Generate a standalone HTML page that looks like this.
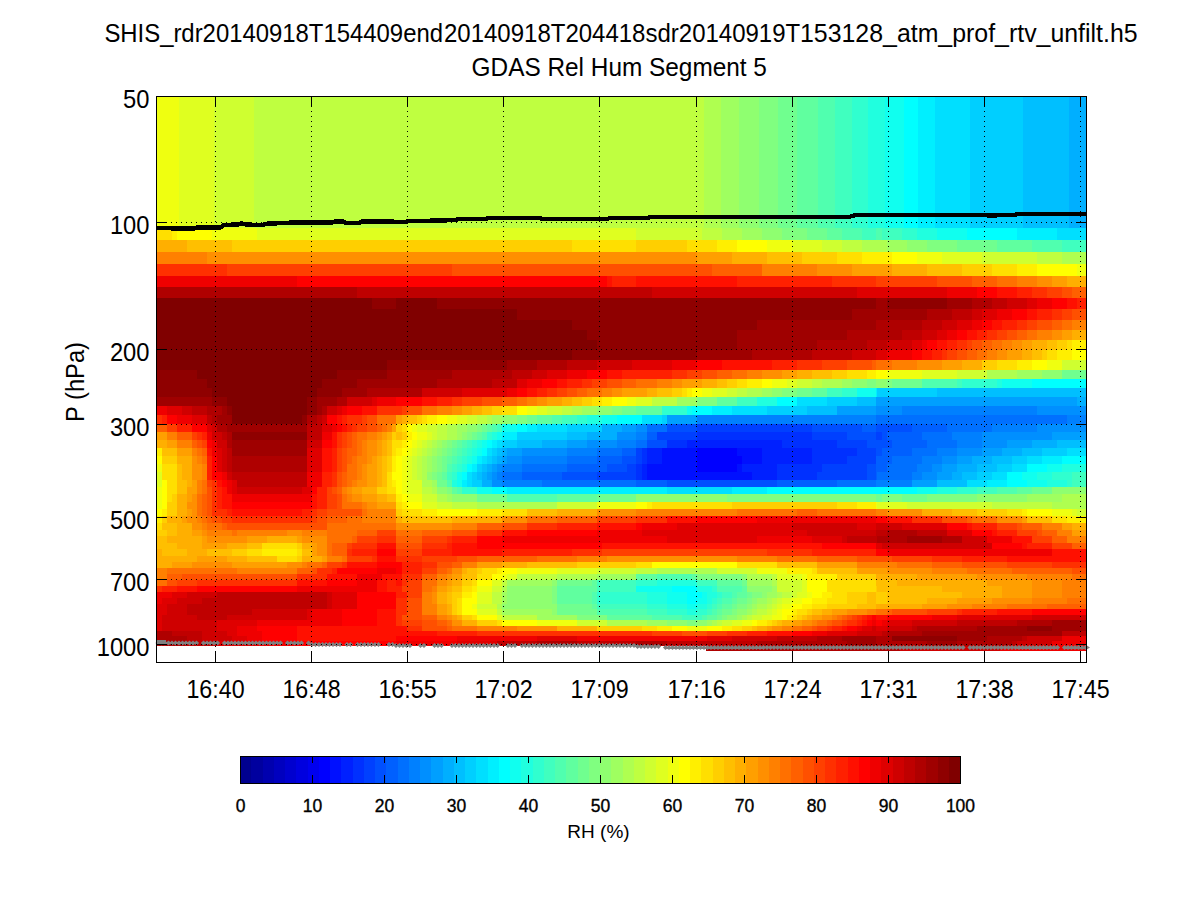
<!DOCTYPE html>
<html><head><meta charset="utf-8"><style>html,body{margin:0;padding:0;background:#fff;width:1200px;height:900px;overflow:hidden}svg{display:block}text{fill:#000}</style></head>
<body><svg width="1200" height="900" viewBox="0 0 1200 900" shape-rendering="crispEdges"><rect x="0" y="0" width="1200" height="900" fill="#fff"/><g><rect x="157" y="97" width="22" height="131" fill="#efff10"/><rect x="179" y="97" width="35" height="131" fill="#dfff20"/><rect x="214" y="97" width="40" height="131" fill="#cfff30"/><rect x="254" y="97" width="450" height="131" fill="#bfff40"/><rect x="704" y="97" width="17" height="131" fill="#afff50"/><rect x="721" y="97" width="18" height="131" fill="#9fff60"/><rect x="739" y="97" width="20" height="131" fill="#8fff70"/><rect x="759" y="97" width="19" height="131" fill="#80ff80"/><rect x="778" y="97" width="19" height="131" fill="#70ff8f"/><rect x="797" y="97" width="21" height="131" fill="#60ff9f"/><rect x="818" y="97" width="17" height="131" fill="#50ffaf"/><rect x="835" y="97" width="17" height="131" fill="#40ffbf"/><rect x="852" y="97" width="16" height="131" fill="#30ffcf"/><rect x="868" y="97" width="17" height="131" fill="#20ffdf"/><rect x="885" y="97" width="19" height="131" fill="#10ffef"/><rect x="904" y="97" width="14" height="131" fill="#00ffff"/><rect x="918" y="97" width="17" height="131" fill="#00efff"/><rect x="935" y="97" width="35" height="131" fill="#00dfff"/><rect x="970" y="97" width="53" height="131" fill="#00cfff"/><rect x="1023" y="97" width="46" height="131" fill="#00bfff"/><rect x="1069" y="97" width="17" height="131" fill="#00afff"/><rect x="157" y="228" width="15" height="12" fill="#ffdf00"/><rect x="172" y="228" width="5" height="12" fill="#ffef00"/><rect x="177" y="228" width="35" height="12" fill="#ffff00"/><rect x="212" y="228" width="45" height="12" fill="#efff10"/><rect x="257" y="228" width="379" height="12" fill="#dfff20"/><rect x="636" y="228" width="66" height="12" fill="#cfff30"/><rect x="702" y="228" width="20" height="12" fill="#bfff40"/><rect x="722" y="228" width="20" height="12" fill="#afff50"/><rect x="742" y="228" width="20" height="12" fill="#9fff60"/><rect x="762" y="228" width="20" height="12" fill="#8fff70"/><rect x="782" y="228" width="25" height="12" fill="#80ff80"/><rect x="807" y="228" width="20" height="12" fill="#70ff8f"/><rect x="827" y="228" width="15" height="12" fill="#60ff9f"/><rect x="842" y="228" width="20" height="12" fill="#50ffaf"/><rect x="862" y="228" width="14" height="12" fill="#40ffbf"/><rect x="876" y="228" width="6" height="12" fill="#50ffaf"/><rect x="882" y="228" width="20" height="12" fill="#40ffbf"/><rect x="902" y="228" width="15" height="12" fill="#30ffcf"/><rect x="917" y="228" width="20" height="12" fill="#20ffdf"/><rect x="937" y="228" width="30" height="12" fill="#10ffef"/><rect x="967" y="228" width="50" height="12" fill="#00ffff"/><rect x="1017" y="228" width="40" height="12" fill="#00efff"/><rect x="1057" y="228" width="29" height="12" fill="#00dfff"/><rect x="157" y="240" width="30" height="12" fill="#ffaf00"/><rect x="187" y="240" width="45" height="12" fill="#ffbf00"/><rect x="232" y="240" width="340" height="12" fill="#ffcf00"/><rect x="572" y="240" width="64" height="12" fill="#ffdf00"/><rect x="636" y="240" width="51" height="12" fill="#ffcf00"/><rect x="687" y="240" width="30" height="12" fill="#ffdf00"/><rect x="717" y="240" width="20" height="12" fill="#ffef00"/><rect x="737" y="240" width="30" height="12" fill="#ffff00"/><rect x="767" y="240" width="25" height="12" fill="#efff10"/><rect x="792" y="240" width="30" height="12" fill="#dfff20"/><rect x="822" y="240" width="20" height="12" fill="#cfff30"/><rect x="842" y="240" width="20" height="12" fill="#bfff40"/><rect x="862" y="240" width="25" height="12" fill="#afff50"/><rect x="887" y="240" width="20" height="12" fill="#9fff60"/><rect x="907" y="240" width="20" height="12" fill="#8fff70"/><rect x="927" y="240" width="30" height="12" fill="#80ff80"/><rect x="957" y="240" width="40" height="12" fill="#70ff8f"/><rect x="997" y="240" width="35" height="12" fill="#60ff9f"/><rect x="1032" y="240" width="30" height="12" fill="#50ffaf"/><rect x="1062" y="240" width="24" height="12" fill="#40ffbf"/><rect x="157" y="252" width="50" height="12" fill="#ff8000"/><rect x="207" y="252" width="490" height="12" fill="#ff8f00"/><rect x="697" y="252" width="35" height="12" fill="#ff9f00"/><rect x="732" y="252" width="35" height="12" fill="#ffaf00"/><rect x="767" y="252" width="35" height="12" fill="#ffbf00"/><rect x="802" y="252" width="35" height="12" fill="#ffcf00"/><rect x="837" y="252" width="25" height="12" fill="#ffdf00"/><rect x="862" y="252" width="30" height="12" fill="#ffef00"/><rect x="892" y="252" width="25" height="12" fill="#ffff00"/><rect x="917" y="252" width="25" height="12" fill="#efff10"/><rect x="942" y="252" width="40" height="12" fill="#dfff20"/><rect x="982" y="252" width="55" height="12" fill="#cfff30"/><rect x="1037" y="252" width="25" height="12" fill="#bfff40"/><rect x="1062" y="252" width="24" height="12" fill="#afff50"/><rect x="157" y="264" width="70" height="12" fill="#ff3000"/><rect x="227" y="264" width="225" height="12" fill="#ff4000"/><rect x="452" y="264" width="260" height="12" fill="#ff5000"/><rect x="712" y="264" width="50" height="12" fill="#ff6000"/><rect x="762" y="264" width="55" height="12" fill="#ff8000"/><rect x="817" y="264" width="35" height="12" fill="#ff8f00"/><rect x="852" y="264" width="40" height="12" fill="#ff9f00"/><rect x="892" y="264" width="35" height="12" fill="#ffaf00"/><rect x="927" y="264" width="35" height="12" fill="#ffbf00"/><rect x="962" y="264" width="30" height="12" fill="#ffcf00"/><rect x="992" y="264" width="25" height="12" fill="#ffdf00"/><rect x="1017" y="264" width="20" height="12" fill="#ffef00"/><rect x="1037" y="264" width="40" height="12" fill="#ffff00"/><rect x="1077" y="264" width="9" height="12" fill="#efff10"/><rect x="157" y="276" width="140" height="11" fill="#ef0000"/><rect x="297" y="276" width="310" height="11" fill="#ff0000"/><rect x="607" y="276" width="5" height="11" fill="#ff1000"/><rect x="612" y="276" width="24" height="11" fill="#ff2000"/><rect x="636" y="276" width="101" height="11" fill="#ff1000"/><rect x="737" y="276" width="95" height="11" fill="#ff2000"/><rect x="832" y="276" width="44" height="11" fill="#ff3000"/><rect x="876" y="276" width="61" height="11" fill="#ff4000"/><rect x="937" y="276" width="35" height="11" fill="#ff5000"/><rect x="972" y="276" width="25" height="11" fill="#ff6000"/><rect x="997" y="276" width="20" height="11" fill="#ff7000"/><rect x="1017" y="276" width="20" height="11" fill="#ff8000"/><rect x="1037" y="276" width="15" height="11" fill="#ff8f00"/><rect x="1052" y="276" width="15" height="11" fill="#ff9f00"/><rect x="1067" y="276" width="19" height="11" fill="#ffaf00"/><rect x="157" y="287" width="200" height="11" fill="#af0000"/><rect x="357" y="287" width="295" height="11" fill="#bf0000"/><rect x="652" y="287" width="205" height="11" fill="#cf0000"/><rect x="857" y="287" width="90" height="11" fill="#df0000"/><rect x="947" y="287" width="30" height="11" fill="#ef0000"/><rect x="977" y="287" width="20" height="11" fill="#ff0000"/><rect x="997" y="287" width="20" height="11" fill="#ff1000"/><rect x="1017" y="287" width="15" height="11" fill="#ff2000"/><rect x="1032" y="287" width="15" height="11" fill="#ff3000"/><rect x="1047" y="287" width="15" height="11" fill="#ff4000"/><rect x="1062" y="287" width="10" height="11" fill="#ff5000"/><rect x="1072" y="287" width="14" height="11" fill="#ff6000"/><rect x="157" y="298" width="215" height="11" fill="#800000"/><rect x="372" y="298" width="24" height="11" fill="#8f0000"/><rect x="396" y="298" width="41" height="11" fill="#800000"/><rect x="437" y="298" width="439" height="11" fill="#8f0000"/><rect x="876" y="298" width="11" height="11" fill="#9f0000"/><rect x="887" y="298" width="60" height="11" fill="#8f0000"/><rect x="947" y="298" width="25" height="11" fill="#9f0000"/><rect x="972" y="298" width="20" height="11" fill="#af0000"/><rect x="992" y="298" width="15" height="11" fill="#bf0000"/><rect x="1007" y="298" width="20" height="11" fill="#cf0000"/><rect x="1027" y="298" width="10" height="11" fill="#df0000"/><rect x="1037" y="298" width="15" height="11" fill="#ef0000"/><rect x="1052" y="298" width="15" height="11" fill="#ff0000"/><rect x="1067" y="298" width="10" height="11" fill="#ff1000"/><rect x="1077" y="298" width="9" height="11" fill="#ff2000"/><rect x="157" y="309" width="360" height="11" fill="#800000"/><rect x="517" y="309" width="335" height="11" fill="#8f0000"/><rect x="852" y="309" width="75" height="11" fill="#9f0000"/><rect x="927" y="309" width="25" height="11" fill="#af0000"/><rect x="952" y="309" width="20" height="11" fill="#bf0000"/><rect x="972" y="309" width="10" height="11" fill="#cf0000"/><rect x="982" y="309" width="15" height="11" fill="#df0000"/><rect x="997" y="309" width="15" height="11" fill="#ef0000"/><rect x="1012" y="309" width="15" height="11" fill="#ff0000"/><rect x="1027" y="309" width="10" height="11" fill="#ff1000"/><rect x="1037" y="309" width="15" height="11" fill="#ff2000"/><rect x="1052" y="309" width="10" height="11" fill="#ff3000"/><rect x="1062" y="309" width="10" height="11" fill="#ff4000"/><rect x="1072" y="309" width="14" height="11" fill="#ff5000"/><rect x="157" y="320" width="415" height="10" fill="#800000"/><rect x="572" y="320" width="185" height="10" fill="#8f0000"/><rect x="757" y="320" width="119" height="10" fill="#9f0000"/><rect x="876" y="320" width="46" height="10" fill="#af0000"/><rect x="922" y="320" width="20" height="10" fill="#bf0000"/><rect x="942" y="320" width="15" height="10" fill="#cf0000"/><rect x="957" y="320" width="15" height="10" fill="#df0000"/><rect x="972" y="320" width="10" height="10" fill="#ef0000"/><rect x="982" y="320" width="10" height="10" fill="#ff0000"/><rect x="992" y="320" width="10" height="10" fill="#ff1000"/><rect x="1002" y="320" width="15" height="10" fill="#ff2000"/><rect x="1017" y="320" width="10" height="10" fill="#ff3000"/><rect x="1027" y="320" width="10" height="10" fill="#ff4000"/><rect x="1037" y="320" width="15" height="10" fill="#ff5000"/><rect x="1052" y="320" width="10" height="10" fill="#ff6000"/><rect x="1062" y="320" width="10" height="10" fill="#ff7000"/><rect x="1072" y="320" width="14" height="10" fill="#ff8000"/><rect x="157" y="330" width="430" height="10" fill="#800000"/><rect x="587" y="330" width="150" height="10" fill="#8f0000"/><rect x="737" y="330" width="110" height="10" fill="#9f0000"/><rect x="847" y="330" width="55" height="10" fill="#af0000"/><rect x="902" y="330" width="20" height="10" fill="#bf0000"/><rect x="922" y="330" width="15" height="10" fill="#cf0000"/><rect x="937" y="330" width="10" height="10" fill="#df0000"/><rect x="947" y="330" width="10" height="10" fill="#ef0000"/><rect x="957" y="330" width="10" height="10" fill="#ff0000"/><rect x="967" y="330" width="10" height="10" fill="#ff1000"/><rect x="977" y="330" width="10" height="10" fill="#ff2000"/><rect x="987" y="330" width="10" height="10" fill="#ff3000"/><rect x="997" y="330" width="10" height="10" fill="#ff4000"/><rect x="1007" y="330" width="10" height="10" fill="#ff5000"/><rect x="1017" y="330" width="10" height="10" fill="#ff6000"/><rect x="1027" y="330" width="10" height="10" fill="#ff7000"/><rect x="1037" y="330" width="15" height="10" fill="#ff8000"/><rect x="1052" y="330" width="10" height="10" fill="#ff8f00"/><rect x="1062" y="330" width="10" height="10" fill="#ff9f00"/><rect x="1072" y="330" width="14" height="10" fill="#ffaf00"/><rect x="157" y="340" width="440" height="10" fill="#800000"/><rect x="597" y="340" width="140" height="10" fill="#8f0000"/><rect x="737" y="340" width="80" height="10" fill="#9f0000"/><rect x="817" y="340" width="50" height="10" fill="#af0000"/><rect x="867" y="340" width="20" height="10" fill="#bf0000"/><rect x="887" y="340" width="25" height="10" fill="#cf0000"/><rect x="912" y="340" width="10" height="10" fill="#df0000"/><rect x="922" y="340" width="5" height="10" fill="#ef0000"/><rect x="927" y="340" width="10" height="10" fill="#ff0000"/><rect x="937" y="340" width="10" height="10" fill="#ff1000"/><rect x="947" y="340" width="10" height="10" fill="#ff2000"/><rect x="957" y="340" width="10" height="10" fill="#ff3000"/><rect x="967" y="340" width="5" height="10" fill="#ff4000"/><rect x="972" y="340" width="10" height="10" fill="#ff5000"/><rect x="982" y="340" width="10" height="10" fill="#ff6000"/><rect x="992" y="340" width="10" height="10" fill="#ff7000"/><rect x="1002" y="340" width="10" height="10" fill="#ff8000"/><rect x="1012" y="340" width="10" height="10" fill="#ff8f00"/><rect x="1022" y="340" width="10" height="10" fill="#ff9f00"/><rect x="1032" y="340" width="15" height="10" fill="#ffaf00"/><rect x="1047" y="340" width="10" height="10" fill="#ffbf00"/><rect x="1057" y="340" width="10" height="10" fill="#ffcf00"/><rect x="1067" y="340" width="5" height="10" fill="#ffdf00"/><rect x="1072" y="340" width="14" height="10" fill="#ffef00"/><rect x="157" y="350" width="415" height="10" fill="#800000"/><rect x="572" y="350" width="125" height="10" fill="#8f0000"/><rect x="697" y="350" width="55" height="10" fill="#9f0000"/><rect x="752" y="350" width="60" height="10" fill="#af0000"/><rect x="812" y="350" width="40" height="10" fill="#bf0000"/><rect x="852" y="350" width="24" height="10" fill="#cf0000"/><rect x="876" y="350" width="11" height="10" fill="#df0000"/><rect x="887" y="350" width="25" height="10" fill="#ef0000"/><rect x="912" y="350" width="10" height="10" fill="#ff0000"/><rect x="922" y="350" width="10" height="10" fill="#ff1000"/><rect x="932" y="350" width="10" height="10" fill="#ff2000"/><rect x="942" y="350" width="5" height="10" fill="#ff3000"/><rect x="947" y="350" width="10" height="10" fill="#ff4000"/><rect x="957" y="350" width="10" height="10" fill="#ff5000"/><rect x="967" y="350" width="10" height="10" fill="#ff6000"/><rect x="977" y="350" width="10" height="10" fill="#ff7000"/><rect x="987" y="350" width="10" height="10" fill="#ff8000"/><rect x="997" y="350" width="10" height="10" fill="#ff8f00"/><rect x="1007" y="350" width="15" height="10" fill="#ff9f00"/><rect x="1022" y="350" width="10" height="10" fill="#ffaf00"/><rect x="1032" y="350" width="10" height="10" fill="#ffbf00"/><rect x="1042" y="350" width="5" height="10" fill="#ffcf00"/><rect x="1047" y="350" width="10" height="10" fill="#ffdf00"/><rect x="1057" y="350" width="15" height="10" fill="#ffef00"/><rect x="1072" y="350" width="14" height="10" fill="#ffff00"/><rect x="157" y="360" width="230" height="10" fill="#800000"/><rect x="387" y="360" width="120" height="10" fill="#8f0000"/><rect x="507" y="360" width="30" height="10" fill="#9f0000"/><rect x="537" y="360" width="30" height="10" fill="#af0000"/><rect x="567" y="360" width="30" height="10" fill="#bf0000"/><rect x="597" y="360" width="35" height="10" fill="#cf0000"/><rect x="632" y="360" width="40" height="10" fill="#df0000"/><rect x="672" y="360" width="25" height="10" fill="#ef0000"/><rect x="697" y="360" width="25" height="10" fill="#ff0000"/><rect x="722" y="360" width="50" height="10" fill="#ff1000"/><rect x="772" y="360" width="25" height="10" fill="#ff2000"/><rect x="797" y="360" width="25" height="10" fill="#ff3000"/><rect x="822" y="360" width="25" height="10" fill="#ff4000"/><rect x="847" y="360" width="25" height="10" fill="#ff5000"/><rect x="872" y="360" width="4" height="10" fill="#ff6000"/><rect x="876" y="360" width="16" height="10" fill="#ff7000"/><rect x="892" y="360" width="25" height="10" fill="#ff8000"/><rect x="917" y="360" width="25" height="10" fill="#ff8f00"/><rect x="942" y="360" width="20" height="10" fill="#ff9f00"/><rect x="962" y="360" width="20" height="10" fill="#ffaf00"/><rect x="982" y="360" width="15" height="10" fill="#ffcf00"/><rect x="997" y="360" width="20" height="10" fill="#ffdf00"/><rect x="1017" y="360" width="15" height="10" fill="#ffef00"/><rect x="1032" y="360" width="15" height="10" fill="#ffff00"/><rect x="1047" y="360" width="15" height="10" fill="#efff10"/><rect x="1062" y="360" width="24" height="10" fill="#cfff30"/><rect x="157" y="370" width="40" height="9" fill="#8f0000"/><rect x="197" y="370" width="140" height="9" fill="#800000"/><rect x="337" y="370" width="50" height="9" fill="#8f0000"/><rect x="387" y="370" width="65" height="9" fill="#9f0000"/><rect x="452" y="370" width="60" height="9" fill="#af0000"/><rect x="512" y="370" width="20" height="9" fill="#bf0000"/><rect x="532" y="370" width="15" height="9" fill="#cf0000"/><rect x="547" y="370" width="20" height="9" fill="#df0000"/><rect x="567" y="370" width="20" height="9" fill="#ef0000"/><rect x="587" y="370" width="20" height="9" fill="#ff0000"/><rect x="607" y="370" width="15" height="9" fill="#ff1000"/><rect x="622" y="370" width="50" height="9" fill="#ff2000"/><rect x="672" y="370" width="15" height="9" fill="#ff3000"/><rect x="687" y="370" width="15" height="9" fill="#ff4000"/><rect x="702" y="370" width="15" height="9" fill="#ff5000"/><rect x="717" y="370" width="15" height="9" fill="#ff6000"/><rect x="732" y="370" width="15" height="9" fill="#ff7000"/><rect x="747" y="370" width="15" height="9" fill="#ff8000"/><rect x="762" y="370" width="20" height="9" fill="#ff8f00"/><rect x="782" y="370" width="15" height="9" fill="#ff9f00"/><rect x="797" y="370" width="15" height="9" fill="#ffaf00"/><rect x="812" y="370" width="20" height="9" fill="#ffbf00"/><rect x="832" y="370" width="15" height="9" fill="#ffcf00"/><rect x="847" y="370" width="20" height="9" fill="#ffdf00"/><rect x="867" y="370" width="9" height="9" fill="#ffef00"/><rect x="876" y="370" width="11" height="9" fill="#ffff00"/><rect x="887" y="370" width="35" height="9" fill="#efff10"/><rect x="922" y="370" width="35" height="9" fill="#dfff20"/><rect x="957" y="370" width="30" height="9" fill="#cfff30"/><rect x="987" y="370" width="30" height="9" fill="#afff50"/><rect x="1017" y="370" width="25" height="9" fill="#9fff60"/><rect x="1042" y="370" width="20" height="9" fill="#8fff70"/><rect x="1062" y="370" width="24" height="9" fill="#70ff8f"/><rect x="157" y="379" width="50" height="9" fill="#8f0000"/><rect x="207" y="379" width="115" height="9" fill="#800000"/><rect x="322" y="379" width="35" height="9" fill="#8f0000"/><rect x="357" y="379" width="80" height="9" fill="#9f0000"/><rect x="437" y="379" width="55" height="9" fill="#af0000"/><rect x="492" y="379" width="25" height="9" fill="#bf0000"/><rect x="517" y="379" width="10" height="9" fill="#df0000"/><rect x="527" y="379" width="15" height="9" fill="#ef0000"/><rect x="542" y="379" width="15" height="9" fill="#ff0000"/><rect x="557" y="379" width="10" height="9" fill="#ff1000"/><rect x="567" y="379" width="15" height="9" fill="#ff2000"/><rect x="582" y="379" width="10" height="9" fill="#ff3000"/><rect x="592" y="379" width="15" height="9" fill="#ff4000"/><rect x="607" y="379" width="15" height="9" fill="#ff5000"/><rect x="622" y="379" width="14" height="9" fill="#ff6000"/><rect x="636" y="379" width="21" height="9" fill="#ff7000"/><rect x="657" y="379" width="15" height="9" fill="#ff8000"/><rect x="672" y="379" width="10" height="9" fill="#ff8f00"/><rect x="682" y="379" width="20" height="9" fill="#ff9f00"/><rect x="702" y="379" width="15" height="9" fill="#ffaf00"/><rect x="717" y="379" width="10" height="9" fill="#ffbf00"/><rect x="727" y="379" width="10" height="9" fill="#ffcf00"/><rect x="737" y="379" width="10" height="9" fill="#ffdf00"/><rect x="747" y="379" width="15" height="9" fill="#ffef00"/><rect x="762" y="379" width="10" height="9" fill="#ffff00"/><rect x="772" y="379" width="15" height="9" fill="#efff10"/><rect x="787" y="379" width="10" height="9" fill="#dfff20"/><rect x="797" y="379" width="15" height="9" fill="#cfff30"/><rect x="812" y="379" width="10" height="9" fill="#bfff40"/><rect x="822" y="379" width="20" height="9" fill="#afff50"/><rect x="842" y="379" width="10" height="9" fill="#9fff60"/><rect x="852" y="379" width="15" height="9" fill="#8fff70"/><rect x="867" y="379" width="9" height="9" fill="#80ff80"/><rect x="876" y="379" width="11" height="9" fill="#8fff70"/><rect x="887" y="379" width="5" height="9" fill="#80ff80"/><rect x="892" y="379" width="30" height="9" fill="#70ff8f"/><rect x="922" y="379" width="35" height="9" fill="#50ffaf"/><rect x="957" y="379" width="5" height="9" fill="#40ffbf"/><rect x="962" y="379" width="35" height="9" fill="#30ffcf"/><rect x="997" y="379" width="5" height="9" fill="#20ffdf"/><rect x="1002" y="379" width="30" height="9" fill="#10ffef"/><rect x="1032" y="379" width="54" height="9" fill="#00ffff"/><rect x="157" y="388" width="55" height="9" fill="#8f0000"/><rect x="212" y="388" width="105" height="9" fill="#800000"/><rect x="317" y="388" width="25" height="9" fill="#8f0000"/><rect x="342" y="388" width="25" height="9" fill="#9f0000"/><rect x="367" y="388" width="55" height="9" fill="#af0000"/><rect x="422" y="388" width="40" height="9" fill="#cf0000"/><rect x="462" y="388" width="45" height="9" fill="#df0000"/><rect x="507" y="388" width="10" height="9" fill="#ef0000"/><rect x="517" y="388" width="10" height="9" fill="#ff0000"/><rect x="527" y="388" width="10" height="9" fill="#ff1000"/><rect x="537" y="388" width="10" height="9" fill="#ff2000"/><rect x="547" y="388" width="10" height="9" fill="#ff3000"/><rect x="557" y="388" width="10" height="9" fill="#ff4000"/><rect x="567" y="388" width="10" height="9" fill="#ff5000"/><rect x="577" y="388" width="10" height="9" fill="#ff6000"/><rect x="587" y="388" width="15" height="9" fill="#ff7000"/><rect x="602" y="388" width="10" height="9" fill="#ff8000"/><rect x="612" y="388" width="10" height="9" fill="#ff8f00"/><rect x="622" y="388" width="25" height="9" fill="#ff9f00"/><rect x="647" y="388" width="10" height="9" fill="#ffaf00"/><rect x="657" y="388" width="15" height="9" fill="#ffbf00"/><rect x="672" y="388" width="10" height="9" fill="#ffcf00"/><rect x="682" y="388" width="5" height="9" fill="#ffdf00"/><rect x="687" y="388" width="5" height="9" fill="#ffef00"/><rect x="692" y="388" width="10" height="9" fill="#ffff00"/><rect x="702" y="388" width="10" height="9" fill="#efff10"/><rect x="712" y="388" width="15" height="9" fill="#dfff20"/><rect x="727" y="388" width="10" height="9" fill="#cfff30"/><rect x="737" y="388" width="10" height="9" fill="#bfff40"/><rect x="747" y="388" width="15" height="9" fill="#afff50"/><rect x="762" y="388" width="10" height="9" fill="#9fff60"/><rect x="772" y="388" width="10" height="9" fill="#8fff70"/><rect x="782" y="388" width="15" height="9" fill="#80ff80"/><rect x="797" y="388" width="15" height="9" fill="#70ff8f"/><rect x="812" y="388" width="15" height="9" fill="#60ff9f"/><rect x="827" y="388" width="15" height="9" fill="#40ffbf"/><rect x="842" y="388" width="15" height="9" fill="#30ffcf"/><rect x="857" y="388" width="19" height="9" fill="#10ffef"/><rect x="876" y="388" width="1" height="9" fill="#00efff"/><rect x="877" y="388" width="60" height="9" fill="#00cfff"/><rect x="937" y="388" width="149" height="9" fill="#00bfff"/><rect x="157" y="397" width="55" height="9" fill="#9f0000"/><rect x="212" y="397" width="15" height="9" fill="#8f0000"/><rect x="227" y="397" width="80" height="9" fill="#800000"/><rect x="307" y="397" width="10" height="9" fill="#8f0000"/><rect x="317" y="397" width="20" height="9" fill="#9f0000"/><rect x="337" y="397" width="10" height="9" fill="#af0000"/><rect x="347" y="397" width="25" height="9" fill="#cf0000"/><rect x="372" y="397" width="5" height="9" fill="#df0000"/><rect x="377" y="397" width="19" height="9" fill="#ef0000"/><rect x="396" y="397" width="26" height="9" fill="#ff0000"/><rect x="422" y="397" width="15" height="9" fill="#ff1000"/><rect x="437" y="397" width="15" height="9" fill="#ff2000"/><rect x="452" y="397" width="10" height="9" fill="#ff3000"/><rect x="462" y="397" width="20" height="9" fill="#ff4000"/><rect x="482" y="397" width="20" height="9" fill="#ff5000"/><rect x="502" y="397" width="15" height="9" fill="#ff6000"/><rect x="517" y="397" width="10" height="9" fill="#ff7000"/><rect x="527" y="397" width="10" height="9" fill="#ff8000"/><rect x="537" y="397" width="10" height="9" fill="#ff8f00"/><rect x="547" y="397" width="15" height="9" fill="#ff9f00"/><rect x="562" y="397" width="10" height="9" fill="#ffaf00"/><rect x="572" y="397" width="10" height="9" fill="#ffbf00"/><rect x="582" y="397" width="10" height="9" fill="#ffcf00"/><rect x="592" y="397" width="10" height="9" fill="#ffdf00"/><rect x="602" y="397" width="10" height="9" fill="#ffef00"/><rect x="612" y="397" width="15" height="9" fill="#ffff00"/><rect x="627" y="397" width="9" height="9" fill="#efff10"/><rect x="636" y="397" width="16" height="9" fill="#dfff20"/><rect x="652" y="397" width="25" height="9" fill="#bfff40"/><rect x="677" y="397" width="20" height="9" fill="#9fff60"/><rect x="697" y="397" width="20" height="9" fill="#80ff80"/><rect x="717" y="397" width="20" height="9" fill="#60ff9f"/><rect x="737" y="397" width="20" height="9" fill="#40ffbf"/><rect x="757" y="397" width="20" height="9" fill="#20ffdf"/><rect x="777" y="397" width="20" height="9" fill="#00ffff"/><rect x="797" y="397" width="30" height="9" fill="#00dfff"/><rect x="827" y="397" width="30" height="9" fill="#00cfff"/><rect x="857" y="397" width="19" height="9" fill="#00bfff"/><rect x="876" y="397" width="201" height="9" fill="#009fff"/><rect x="1077" y="397" width="9" height="9" fill="#00afff"/><rect x="157" y="406" width="10" height="9" fill="#ef0000"/><rect x="167" y="406" width="15" height="9" fill="#df0000"/><rect x="182" y="406" width="10" height="9" fill="#cf0000"/><rect x="192" y="406" width="15" height="9" fill="#bf0000"/><rect x="207" y="406" width="15" height="9" fill="#af0000"/><rect x="222" y="406" width="5" height="9" fill="#9f0000"/><rect x="227" y="406" width="5" height="9" fill="#8f0000"/><rect x="232" y="406" width="75" height="9" fill="#800000"/><rect x="307" y="406" width="10" height="9" fill="#8f0000"/><rect x="317" y="406" width="5" height="9" fill="#9f0000"/><rect x="322" y="406" width="5" height="9" fill="#af0000"/><rect x="327" y="406" width="10" height="9" fill="#cf0000"/><rect x="337" y="406" width="5" height="9" fill="#df0000"/><rect x="342" y="406" width="5" height="9" fill="#ef0000"/><rect x="347" y="406" width="15" height="9" fill="#ff0000"/><rect x="362" y="406" width="15" height="9" fill="#ff1000"/><rect x="377" y="406" width="25" height="9" fill="#ff3000"/><rect x="402" y="406" width="5" height="9" fill="#ff4000"/><rect x="407" y="406" width="15" height="9" fill="#ff5000"/><rect x="422" y="406" width="15" height="9" fill="#ff7000"/><rect x="437" y="406" width="15" height="9" fill="#ff8000"/><rect x="452" y="406" width="10" height="9" fill="#ff8f00"/><rect x="462" y="406" width="10" height="9" fill="#ff9f00"/><rect x="472" y="406" width="10" height="9" fill="#ffaf00"/><rect x="482" y="406" width="10" height="9" fill="#ffbf00"/><rect x="492" y="406" width="10" height="9" fill="#ffcf00"/><rect x="502" y="406" width="15" height="9" fill="#ffdf00"/><rect x="517" y="406" width="10" height="9" fill="#ffff00"/><rect x="527" y="406" width="10" height="9" fill="#efff10"/><rect x="537" y="406" width="10" height="9" fill="#dfff20"/><rect x="547" y="406" width="15" height="9" fill="#cfff30"/><rect x="562" y="406" width="10" height="9" fill="#bfff40"/><rect x="572" y="406" width="10" height="9" fill="#afff50"/><rect x="582" y="406" width="15" height="9" fill="#9fff60"/><rect x="597" y="406" width="15" height="9" fill="#8fff70"/><rect x="612" y="406" width="10" height="9" fill="#80ff80"/><rect x="622" y="406" width="14" height="9" fill="#70ff8f"/><rect x="636" y="406" width="26" height="9" fill="#60ff9f"/><rect x="662" y="406" width="25" height="9" fill="#30ffcf"/><rect x="687" y="406" width="5" height="9" fill="#10ffef"/><rect x="692" y="406" width="20" height="9" fill="#00ffff"/><rect x="712" y="406" width="20" height="9" fill="#00efff"/><rect x="732" y="406" width="35" height="9" fill="#00dfff"/><rect x="767" y="406" width="40" height="9" fill="#00cfff"/><rect x="807" y="406" width="30" height="9" fill="#00bfff"/><rect x="837" y="406" width="39" height="9" fill="#009fff"/><rect x="876" y="406" width="26" height="9" fill="#008fff"/><rect x="902" y="406" width="135" height="9" fill="#0080ff"/><rect x="1037" y="406" width="49" height="9" fill="#008fff"/><rect x="157" y="415" width="5" height="9" fill="#ff3000"/><rect x="162" y="415" width="5" height="9" fill="#ff2000"/><rect x="167" y="415" width="10" height="9" fill="#ff0000"/><rect x="177" y="415" width="15" height="9" fill="#ef0000"/><rect x="192" y="415" width="15" height="9" fill="#df0000"/><rect x="207" y="415" width="5" height="9" fill="#bf0000"/><rect x="212" y="415" width="5" height="9" fill="#af0000"/><rect x="217" y="415" width="15" height="9" fill="#9f0000"/><rect x="232" y="415" width="70" height="9" fill="#800000"/><rect x="302" y="415" width="5" height="9" fill="#8f0000"/><rect x="307" y="415" width="10" height="9" fill="#af0000"/><rect x="317" y="415" width="5" height="9" fill="#bf0000"/><rect x="322" y="415" width="5" height="9" fill="#cf0000"/><rect x="327" y="415" width="10" height="9" fill="#ff0000"/><rect x="337" y="415" width="5" height="9" fill="#ff1000"/><rect x="342" y="415" width="5" height="9" fill="#ff2000"/><rect x="347" y="415" width="15" height="9" fill="#ff3000"/><rect x="362" y="415" width="5" height="9" fill="#ff4000"/><rect x="367" y="415" width="10" height="9" fill="#ff5000"/><rect x="377" y="415" width="19" height="9" fill="#ff7000"/><rect x="396" y="415" width="6" height="9" fill="#ff9f00"/><rect x="402" y="415" width="5" height="9" fill="#ffaf00"/><rect x="407" y="415" width="10" height="9" fill="#ffbf00"/><rect x="417" y="415" width="5" height="9" fill="#ffcf00"/><rect x="422" y="415" width="5" height="9" fill="#ffdf00"/><rect x="427" y="415" width="10" height="9" fill="#ffef00"/><rect x="437" y="415" width="10" height="9" fill="#ffff00"/><rect x="447" y="415" width="10" height="9" fill="#efff10"/><rect x="457" y="415" width="10" height="9" fill="#dfff20"/><rect x="467" y="415" width="10" height="9" fill="#cfff30"/><rect x="477" y="415" width="10" height="9" fill="#bfff40"/><rect x="487" y="415" width="5" height="9" fill="#afff50"/><rect x="492" y="415" width="10" height="9" fill="#9fff60"/><rect x="502" y="415" width="15" height="9" fill="#8fff70"/><rect x="517" y="415" width="10" height="9" fill="#80ff80"/><rect x="527" y="415" width="10" height="9" fill="#70ff8f"/><rect x="537" y="415" width="15" height="9" fill="#60ff9f"/><rect x="552" y="415" width="10" height="9" fill="#50ffaf"/><rect x="562" y="415" width="15" height="9" fill="#40ffbf"/><rect x="577" y="415" width="10" height="9" fill="#30ffcf"/><rect x="587" y="415" width="15" height="9" fill="#20ffdf"/><rect x="602" y="415" width="15" height="9" fill="#10ffef"/><rect x="617" y="415" width="25" height="9" fill="#00ffff"/><rect x="642" y="415" width="20" height="9" fill="#00dfff"/><rect x="662" y="415" width="5" height="9" fill="#00cfff"/><rect x="667" y="415" width="30" height="9" fill="#009fff"/><rect x="697" y="415" width="179" height="9" fill="#0080ff"/><rect x="876" y="415" width="191" height="9" fill="#0070ff"/><rect x="1067" y="415" width="19" height="9" fill="#0080ff"/><rect x="157" y="424" width="10" height="8" fill="#ff6000"/><rect x="167" y="424" width="10" height="8" fill="#ff4000"/><rect x="177" y="424" width="15" height="8" fill="#ff2000"/><rect x="192" y="424" width="15" height="8" fill="#ff0000"/><rect x="207" y="424" width="5" height="8" fill="#df0000"/><rect x="212" y="424" width="5" height="8" fill="#cf0000"/><rect x="217" y="424" width="10" height="8" fill="#af0000"/><rect x="227" y="424" width="80" height="8" fill="#9f0000"/><rect x="307" y="424" width="15" height="8" fill="#bf0000"/><rect x="322" y="424" width="10" height="8" fill="#df0000"/><rect x="332" y="424" width="5" height="8" fill="#ef0000"/><rect x="337" y="424" width="5" height="8" fill="#ff0000"/><rect x="342" y="424" width="5" height="8" fill="#ff1000"/><rect x="347" y="424" width="5" height="8" fill="#ff2000"/><rect x="352" y="424" width="5" height="8" fill="#ff3000"/><rect x="357" y="424" width="10" height="8" fill="#ff4000"/><rect x="367" y="424" width="10" height="8" fill="#ff5000"/><rect x="377" y="424" width="5" height="8" fill="#ff6000"/><rect x="382" y="424" width="5" height="8" fill="#ff7000"/><rect x="387" y="424" width="5" height="8" fill="#ff8000"/><rect x="392" y="424" width="4" height="8" fill="#ff9f00"/><rect x="396" y="424" width="6" height="8" fill="#ffcf00"/><rect x="402" y="424" width="5" height="8" fill="#ffdf00"/><rect x="407" y="424" width="5" height="8" fill="#ffff00"/><rect x="412" y="424" width="5" height="8" fill="#efff10"/><rect x="417" y="424" width="10" height="8" fill="#dfff20"/><rect x="427" y="424" width="10" height="8" fill="#cfff30"/><rect x="437" y="424" width="10" height="8" fill="#bfff40"/><rect x="447" y="424" width="10" height="8" fill="#afff50"/><rect x="457" y="424" width="10" height="8" fill="#9fff60"/><rect x="467" y="424" width="10" height="8" fill="#8fff70"/><rect x="477" y="424" width="5" height="8" fill="#80ff80"/><rect x="482" y="424" width="5" height="8" fill="#70ff8f"/><rect x="487" y="424" width="5" height="8" fill="#60ff9f"/><rect x="492" y="424" width="5" height="8" fill="#50ffaf"/><rect x="497" y="424" width="5" height="8" fill="#40ffbf"/><rect x="502" y="424" width="15" height="8" fill="#10ffef"/><rect x="517" y="424" width="10" height="8" fill="#00ffff"/><rect x="527" y="424" width="10" height="8" fill="#00efff"/><rect x="537" y="424" width="30" height="8" fill="#00dfff"/><rect x="567" y="424" width="35" height="8" fill="#00cfff"/><rect x="602" y="424" width="20" height="8" fill="#00afff"/><rect x="622" y="424" width="14" height="8" fill="#009fff"/><rect x="636" y="424" width="11" height="8" fill="#008fff"/><rect x="647" y="424" width="20" height="8" fill="#0070ff"/><rect x="667" y="424" width="30" height="8" fill="#0050ff"/><rect x="697" y="424" width="115" height="8" fill="#0040ff"/><rect x="812" y="424" width="50" height="8" fill="#0050ff"/><rect x="862" y="424" width="14" height="8" fill="#0060ff"/><rect x="876" y="424" width="36" height="8" fill="#0050ff"/><rect x="912" y="424" width="35" height="8" fill="#0060ff"/><rect x="947" y="424" width="45" height="8" fill="#0070ff"/><rect x="992" y="424" width="45" height="8" fill="#0080ff"/><rect x="1037" y="424" width="49" height="8" fill="#008fff"/><rect x="157" y="432" width="10" height="8" fill="#ff9f00"/><rect x="167" y="432" width="10" height="8" fill="#ff8000"/><rect x="177" y="432" width="15" height="8" fill="#ff6000"/><rect x="192" y="432" width="5" height="8" fill="#ff4000"/><rect x="197" y="432" width="5" height="8" fill="#ff3000"/><rect x="202" y="432" width="5" height="8" fill="#ff2000"/><rect x="207" y="432" width="5" height="8" fill="#ef0000"/><rect x="212" y="432" width="10" height="8" fill="#cf0000"/><rect x="222" y="432" width="5" height="8" fill="#bf0000"/><rect x="227" y="432" width="5" height="8" fill="#af0000"/><rect x="232" y="432" width="75" height="8" fill="#8f0000"/><rect x="307" y="432" width="15" height="8" fill="#bf0000"/><rect x="322" y="432" width="10" height="8" fill="#ef0000"/><rect x="332" y="432" width="5" height="8" fill="#ff1000"/><rect x="337" y="432" width="5" height="8" fill="#ff3000"/><rect x="342" y="432" width="5" height="8" fill="#ff4000"/><rect x="347" y="432" width="5" height="8" fill="#ff5000"/><rect x="352" y="432" width="5" height="8" fill="#ff6000"/><rect x="357" y="432" width="10" height="8" fill="#ff7000"/><rect x="367" y="432" width="10" height="8" fill="#ff8000"/><rect x="377" y="432" width="5" height="8" fill="#ff8f00"/><rect x="382" y="432" width="5" height="8" fill="#ff9f00"/><rect x="387" y="432" width="5" height="8" fill="#ffaf00"/><rect x="392" y="432" width="4" height="8" fill="#ffcf00"/><rect x="396" y="432" width="6" height="8" fill="#ffbf00"/><rect x="402" y="432" width="5" height="8" fill="#ffcf00"/><rect x="407" y="432" width="5" height="8" fill="#ffef00"/><rect x="412" y="432" width="5" height="8" fill="#ffff00"/><rect x="417" y="432" width="10" height="8" fill="#efff10"/><rect x="427" y="432" width="5" height="8" fill="#dfff20"/><rect x="432" y="432" width="5" height="8" fill="#cfff30"/><rect x="437" y="432" width="10" height="8" fill="#bfff40"/><rect x="447" y="432" width="10" height="8" fill="#afff50"/><rect x="457" y="432" width="5" height="8" fill="#9fff60"/><rect x="462" y="432" width="5" height="8" fill="#8fff70"/><rect x="467" y="432" width="5" height="8" fill="#80ff80"/><rect x="472" y="432" width="5" height="8" fill="#70ff8f"/><rect x="477" y="432" width="5" height="8" fill="#60ff9f"/><rect x="482" y="432" width="5" height="8" fill="#50ffaf"/><rect x="487" y="432" width="5" height="8" fill="#30ffcf"/><rect x="492" y="432" width="5" height="8" fill="#20ffdf"/><rect x="497" y="432" width="5" height="8" fill="#10ffef"/><rect x="502" y="432" width="15" height="8" fill="#00efff"/><rect x="517" y="432" width="50" height="8" fill="#00cfff"/><rect x="567" y="432" width="20" height="8" fill="#00bfff"/><rect x="587" y="432" width="30" height="8" fill="#00afff"/><rect x="617" y="432" width="19" height="8" fill="#008fff"/><rect x="636" y="432" width="11" height="8" fill="#0080ff"/><rect x="647" y="432" width="10" height="8" fill="#0060ff"/><rect x="657" y="432" width="40" height="8" fill="#0040ff"/><rect x="697" y="432" width="115" height="8" fill="#0030ff"/><rect x="812" y="432" width="35" height="8" fill="#0040ff"/><rect x="847" y="432" width="29" height="8" fill="#0050ff"/><rect x="876" y="432" width="6" height="8" fill="#0040ff"/><rect x="882" y="432" width="5" height="8" fill="#0050ff"/><rect x="887" y="432" width="35" height="8" fill="#0060ff"/><rect x="922" y="432" width="30" height="8" fill="#0070ff"/><rect x="952" y="432" width="30" height="8" fill="#0080ff"/><rect x="982" y="432" width="70" height="8" fill="#008fff"/><rect x="1052" y="432" width="34" height="8" fill="#009fff"/><rect x="157" y="440" width="10" height="8" fill="#ffaf00"/><rect x="167" y="440" width="10" height="8" fill="#ff9f00"/><rect x="177" y="440" width="15" height="8" fill="#ff8000"/><rect x="192" y="440" width="5" height="8" fill="#ff6000"/><rect x="197" y="440" width="5" height="8" fill="#ff5000"/><rect x="202" y="440" width="5" height="8" fill="#ff4000"/><rect x="207" y="440" width="5" height="8" fill="#ff0000"/><rect x="212" y="440" width="5" height="8" fill="#ef0000"/><rect x="217" y="440" width="10" height="8" fill="#cf0000"/><rect x="227" y="440" width="5" height="8" fill="#af0000"/><rect x="232" y="440" width="75" height="8" fill="#9f0000"/><rect x="307" y="440" width="15" height="8" fill="#cf0000"/><rect x="322" y="440" width="10" height="8" fill="#ff0000"/><rect x="332" y="440" width="5" height="8" fill="#ff1000"/><rect x="337" y="440" width="5" height="8" fill="#ff3000"/><rect x="342" y="440" width="5" height="8" fill="#ff4000"/><rect x="347" y="440" width="5" height="8" fill="#ff5000"/><rect x="352" y="440" width="5" height="8" fill="#ff6000"/><rect x="357" y="440" width="5" height="8" fill="#ff7000"/><rect x="362" y="440" width="5" height="8" fill="#ff8000"/><rect x="367" y="440" width="10" height="8" fill="#ff8f00"/><rect x="377" y="440" width="5" height="8" fill="#ff9f00"/><rect x="382" y="440" width="5" height="8" fill="#ffaf00"/><rect x="387" y="440" width="5" height="8" fill="#ffbf00"/><rect x="392" y="440" width="10" height="8" fill="#ffdf00"/><rect x="402" y="440" width="5" height="8" fill="#ffef00"/><rect x="407" y="440" width="5" height="8" fill="#ffff00"/><rect x="412" y="440" width="5" height="8" fill="#efff10"/><rect x="417" y="440" width="5" height="8" fill="#dfff20"/><rect x="422" y="440" width="5" height="8" fill="#cfff30"/><rect x="427" y="440" width="5" height="8" fill="#bfff40"/><rect x="432" y="440" width="5" height="8" fill="#afff50"/><rect x="437" y="440" width="5" height="8" fill="#9fff60"/><rect x="442" y="440" width="5" height="8" fill="#8fff70"/><rect x="447" y="440" width="5" height="8" fill="#80ff80"/><rect x="452" y="440" width="5" height="8" fill="#70ff8f"/><rect x="457" y="440" width="5" height="8" fill="#60ff9f"/><rect x="462" y="440" width="5" height="8" fill="#50ffaf"/><rect x="467" y="440" width="5" height="8" fill="#40ffbf"/><rect x="472" y="440" width="5" height="8" fill="#30ffcf"/><rect x="477" y="440" width="5" height="8" fill="#20ffdf"/><rect x="482" y="440" width="5" height="8" fill="#10ffef"/><rect x="487" y="440" width="5" height="8" fill="#00ffff"/><rect x="492" y="440" width="5" height="8" fill="#00efff"/><rect x="497" y="440" width="5" height="8" fill="#00dfff"/><rect x="502" y="440" width="15" height="8" fill="#00cfff"/><rect x="517" y="440" width="25" height="8" fill="#00bfff"/><rect x="542" y="440" width="25" height="8" fill="#00afff"/><rect x="567" y="440" width="20" height="8" fill="#009fff"/><rect x="587" y="440" width="30" height="8" fill="#008fff"/><rect x="617" y="440" width="19" height="8" fill="#0080ff"/><rect x="636" y="440" width="11" height="8" fill="#0070ff"/><rect x="647" y="440" width="20" height="8" fill="#0050ff"/><rect x="667" y="440" width="20" height="8" fill="#0030ff"/><rect x="687" y="440" width="95" height="8" fill="#0020ff"/><rect x="782" y="440" width="55" height="8" fill="#0030ff"/><rect x="837" y="440" width="30" height="8" fill="#0040ff"/><rect x="867" y="440" width="25" height="8" fill="#0050ff"/><rect x="892" y="440" width="35" height="8" fill="#0060ff"/><rect x="927" y="440" width="30" height="8" fill="#0070ff"/><rect x="957" y="440" width="25" height="8" fill="#0080ff"/><rect x="982" y="440" width="25" height="8" fill="#008fff"/><rect x="1007" y="440" width="25" height="8" fill="#009fff"/><rect x="1032" y="440" width="25" height="8" fill="#00afff"/><rect x="1057" y="440" width="29" height="8" fill="#00bfff"/><rect x="157" y="448" width="5" height="8" fill="#ffef00"/><rect x="162" y="448" width="15" height="8" fill="#ffbf00"/><rect x="177" y="448" width="15" height="8" fill="#ff9f00"/><rect x="192" y="448" width="5" height="8" fill="#ff8000"/><rect x="197" y="448" width="5" height="8" fill="#ff7000"/><rect x="202" y="448" width="5" height="8" fill="#ff6000"/><rect x="207" y="448" width="5" height="8" fill="#ff1000"/><rect x="212" y="448" width="5" height="8" fill="#ef0000"/><rect x="217" y="448" width="5" height="8" fill="#df0000"/><rect x="222" y="448" width="5" height="8" fill="#cf0000"/><rect x="227" y="448" width="5" height="8" fill="#bf0000"/><rect x="232" y="448" width="75" height="8" fill="#9f0000"/><rect x="307" y="448" width="15" height="8" fill="#df0000"/><rect x="322" y="448" width="10" height="8" fill="#ff1000"/><rect x="332" y="448" width="5" height="8" fill="#ff2000"/><rect x="337" y="448" width="5" height="8" fill="#ff4000"/><rect x="342" y="448" width="5" height="8" fill="#ff5000"/><rect x="347" y="448" width="10" height="8" fill="#ff6000"/><rect x="357" y="448" width="5" height="8" fill="#ff7000"/><rect x="362" y="448" width="5" height="8" fill="#ff8000"/><rect x="367" y="448" width="10" height="8" fill="#ff8f00"/><rect x="377" y="448" width="5" height="8" fill="#ff9f00"/><rect x="382" y="448" width="5" height="8" fill="#ffaf00"/><rect x="387" y="448" width="5" height="8" fill="#ffbf00"/><rect x="392" y="448" width="4" height="8" fill="#ffdf00"/><rect x="396" y="448" width="6" height="8" fill="#ffef00"/><rect x="402" y="448" width="5" height="8" fill="#ffff00"/><rect x="407" y="448" width="5" height="8" fill="#efff10"/><rect x="412" y="448" width="5" height="8" fill="#dfff20"/><rect x="417" y="448" width="5" height="8" fill="#cfff30"/><rect x="422" y="448" width="5" height="8" fill="#bfff40"/><rect x="427" y="448" width="5" height="8" fill="#afff50"/><rect x="432" y="448" width="5" height="8" fill="#9fff60"/><rect x="437" y="448" width="5" height="8" fill="#8fff70"/><rect x="442" y="448" width="5" height="8" fill="#80ff80"/><rect x="447" y="448" width="5" height="8" fill="#70ff8f"/><rect x="452" y="448" width="5" height="8" fill="#60ff9f"/><rect x="457" y="448" width="5" height="8" fill="#50ffaf"/><rect x="462" y="448" width="5" height="8" fill="#40ffbf"/><rect x="467" y="448" width="5" height="8" fill="#30ffcf"/><rect x="472" y="448" width="5" height="8" fill="#20ffdf"/><rect x="477" y="448" width="5" height="8" fill="#10ffef"/><rect x="482" y="448" width="5" height="8" fill="#00ffff"/><rect x="487" y="448" width="5" height="8" fill="#00dfff"/><rect x="492" y="448" width="5" height="8" fill="#00cfff"/><rect x="497" y="448" width="5" height="8" fill="#00bfff"/><rect x="502" y="448" width="5" height="8" fill="#00afff"/><rect x="507" y="448" width="15" height="8" fill="#009fff"/><rect x="522" y="448" width="45" height="8" fill="#008fff"/><rect x="567" y="448" width="30" height="8" fill="#0080ff"/><rect x="597" y="448" width="25" height="8" fill="#0070ff"/><rect x="622" y="448" width="14" height="8" fill="#0060ff"/><rect x="636" y="448" width="6" height="8" fill="#0040ff"/><rect x="642" y="448" width="5" height="8" fill="#0030ff"/><rect x="647" y="448" width="15" height="8" fill="#0020ff"/><rect x="662" y="448" width="35" height="8" fill="#0010ff"/><rect x="697" y="448" width="40" height="8" fill="#0000ff"/><rect x="737" y="448" width="25" height="8" fill="#0010ff"/><rect x="762" y="448" width="50" height="8" fill="#0020ff"/><rect x="812" y="448" width="45" height="8" fill="#0030ff"/><rect x="857" y="448" width="19" height="8" fill="#0040ff"/><rect x="876" y="448" width="6" height="8" fill="#0050ff"/><rect x="882" y="448" width="30" height="8" fill="#0060ff"/><rect x="912" y="448" width="25" height="8" fill="#0070ff"/><rect x="937" y="448" width="20" height="8" fill="#0080ff"/><rect x="957" y="448" width="25" height="8" fill="#008fff"/><rect x="982" y="448" width="20" height="8" fill="#009fff"/><rect x="1002" y="448" width="20" height="8" fill="#00afff"/><rect x="1022" y="448" width="20" height="8" fill="#00bfff"/><rect x="1042" y="448" width="25" height="8" fill="#00cfff"/><rect x="1067" y="448" width="19" height="8" fill="#00dfff"/><rect x="157" y="456" width="5" height="8" fill="#ffff00"/><rect x="162" y="456" width="15" height="8" fill="#ffcf00"/><rect x="177" y="456" width="15" height="8" fill="#ffaf00"/><rect x="192" y="456" width="5" height="8" fill="#ff8f00"/><rect x="197" y="456" width="5" height="8" fill="#ff8000"/><rect x="202" y="456" width="5" height="8" fill="#ff7000"/><rect x="207" y="456" width="5" height="8" fill="#ff2000"/><rect x="212" y="456" width="5" height="8" fill="#ff0000"/><rect x="217" y="456" width="5" height="8" fill="#df0000"/><rect x="222" y="456" width="5" height="8" fill="#cf0000"/><rect x="227" y="456" width="5" height="8" fill="#bf0000"/><rect x="232" y="456" width="75" height="8" fill="#af0000"/><rect x="307" y="456" width="15" height="8" fill="#df0000"/><rect x="322" y="456" width="10" height="8" fill="#ff1000"/><rect x="332" y="456" width="5" height="8" fill="#ff2000"/><rect x="337" y="456" width="5" height="8" fill="#ff4000"/><rect x="342" y="456" width="5" height="8" fill="#ff5000"/><rect x="347" y="456" width="5" height="8" fill="#ff6000"/><rect x="352" y="456" width="5" height="8" fill="#ff7000"/><rect x="357" y="456" width="10" height="8" fill="#ff8000"/><rect x="367" y="456" width="5" height="8" fill="#ff8f00"/><rect x="372" y="456" width="5" height="8" fill="#ff9f00"/><rect x="377" y="456" width="5" height="8" fill="#ffaf00"/><rect x="382" y="456" width="5" height="8" fill="#ffbf00"/><rect x="387" y="456" width="5" height="8" fill="#ffcf00"/><rect x="392" y="456" width="4" height="8" fill="#ffef00"/><rect x="396" y="456" width="6" height="8" fill="#ffff00"/><rect x="402" y="456" width="5" height="8" fill="#efff10"/><rect x="407" y="456" width="5" height="8" fill="#dfff20"/><rect x="412" y="456" width="5" height="8" fill="#cfff30"/><rect x="417" y="456" width="5" height="8" fill="#bfff40"/><rect x="422" y="456" width="5" height="8" fill="#afff50"/><rect x="427" y="456" width="5" height="8" fill="#9fff60"/><rect x="432" y="456" width="5" height="8" fill="#8fff70"/><rect x="437" y="456" width="5" height="8" fill="#80ff80"/><rect x="442" y="456" width="5" height="8" fill="#70ff8f"/><rect x="447" y="456" width="5" height="8" fill="#60ff9f"/><rect x="452" y="456" width="5" height="8" fill="#50ffaf"/><rect x="457" y="456" width="5" height="8" fill="#40ffbf"/><rect x="462" y="456" width="5" height="8" fill="#30ffcf"/><rect x="467" y="456" width="5" height="8" fill="#20ffdf"/><rect x="472" y="456" width="5" height="8" fill="#10ffef"/><rect x="477" y="456" width="5" height="8" fill="#00efff"/><rect x="482" y="456" width="5" height="8" fill="#00dfff"/><rect x="487" y="456" width="5" height="8" fill="#00cfff"/><rect x="492" y="456" width="5" height="8" fill="#00bfff"/><rect x="497" y="456" width="5" height="8" fill="#00afff"/><rect x="502" y="456" width="5" height="8" fill="#009fff"/><rect x="507" y="456" width="15" height="8" fill="#008fff"/><rect x="522" y="456" width="45" height="8" fill="#0080ff"/><rect x="567" y="456" width="30" height="8" fill="#0070ff"/><rect x="597" y="456" width="25" height="8" fill="#0060ff"/><rect x="622" y="456" width="14" height="8" fill="#0050ff"/><rect x="636" y="456" width="6" height="8" fill="#0040ff"/><rect x="642" y="456" width="5" height="8" fill="#0030ff"/><rect x="647" y="456" width="15" height="8" fill="#0020ff"/><rect x="662" y="456" width="35" height="8" fill="#0010ff"/><rect x="697" y="456" width="45" height="8" fill="#0000ff"/><rect x="742" y="456" width="20" height="8" fill="#0010ff"/><rect x="762" y="456" width="50" height="8" fill="#0020ff"/><rect x="812" y="456" width="35" height="8" fill="#0030ff"/><rect x="847" y="456" width="29" height="8" fill="#0040ff"/><rect x="876" y="456" width="16" height="8" fill="#0060ff"/><rect x="892" y="456" width="30" height="8" fill="#0070ff"/><rect x="922" y="456" width="20" height="8" fill="#0080ff"/><rect x="942" y="456" width="15" height="8" fill="#008fff"/><rect x="957" y="456" width="15" height="8" fill="#009fff"/><rect x="972" y="456" width="20" height="8" fill="#00afff"/><rect x="992" y="456" width="20" height="8" fill="#00bfff"/><rect x="1012" y="456" width="15" height="8" fill="#00cfff"/><rect x="1027" y="456" width="15" height="8" fill="#00dfff"/><rect x="1042" y="456" width="20" height="8" fill="#00efff"/><rect x="1062" y="456" width="24" height="8" fill="#00ffff"/><rect x="157" y="464" width="5" height="8" fill="#efff10"/><rect x="162" y="464" width="15" height="8" fill="#ffdf00"/><rect x="177" y="464" width="5" height="8" fill="#ffbf00"/><rect x="182" y="464" width="10" height="8" fill="#ffaf00"/><rect x="192" y="464" width="10" height="8" fill="#ff8f00"/><rect x="202" y="464" width="5" height="8" fill="#ff8000"/><rect x="207" y="464" width="5" height="8" fill="#ff2000"/><rect x="212" y="464" width="5" height="8" fill="#ff0000"/><rect x="217" y="464" width="5" height="8" fill="#df0000"/><rect x="222" y="464" width="5" height="8" fill="#cf0000"/><rect x="227" y="464" width="5" height="8" fill="#bf0000"/><rect x="232" y="464" width="75" height="8" fill="#af0000"/><rect x="307" y="464" width="15" height="8" fill="#df0000"/><rect x="322" y="464" width="10" height="8" fill="#ff1000"/><rect x="332" y="464" width="5" height="8" fill="#ff2000"/><rect x="337" y="464" width="5" height="8" fill="#ff4000"/><rect x="342" y="464" width="5" height="8" fill="#ff5000"/><rect x="347" y="464" width="10" height="8" fill="#ff7000"/><rect x="357" y="464" width="5" height="8" fill="#ff8000"/><rect x="362" y="464" width="5" height="8" fill="#ff8f00"/><rect x="367" y="464" width="10" height="8" fill="#ff9f00"/><rect x="377" y="464" width="5" height="8" fill="#ffaf00"/><rect x="382" y="464" width="5" height="8" fill="#ffbf00"/><rect x="387" y="464" width="5" height="8" fill="#ffcf00"/><rect x="392" y="464" width="4" height="8" fill="#ffef00"/><rect x="396" y="464" width="6" height="8" fill="#ffff00"/><rect x="402" y="464" width="5" height="8" fill="#efff10"/><rect x="407" y="464" width="5" height="8" fill="#dfff20"/><rect x="412" y="464" width="5" height="8" fill="#cfff30"/><rect x="417" y="464" width="5" height="8" fill="#bfff40"/><rect x="422" y="464" width="5" height="8" fill="#afff50"/><rect x="427" y="464" width="5" height="8" fill="#9fff60"/><rect x="432" y="464" width="5" height="8" fill="#8fff70"/><rect x="437" y="464" width="5" height="8" fill="#80ff80"/><rect x="442" y="464" width="5" height="8" fill="#70ff8f"/><rect x="447" y="464" width="5" height="8" fill="#50ffaf"/><rect x="452" y="464" width="5" height="8" fill="#40ffbf"/><rect x="457" y="464" width="5" height="8" fill="#30ffcf"/><rect x="462" y="464" width="5" height="8" fill="#20ffdf"/><rect x="467" y="464" width="5" height="8" fill="#00ffff"/><rect x="472" y="464" width="5" height="8" fill="#00efff"/><rect x="477" y="464" width="5" height="8" fill="#00cfff"/><rect x="482" y="464" width="5" height="8" fill="#00bfff"/><rect x="487" y="464" width="5" height="8" fill="#00afff"/><rect x="492" y="464" width="5" height="8" fill="#009fff"/><rect x="497" y="464" width="5" height="8" fill="#008fff"/><rect x="502" y="464" width="20" height="8" fill="#0080ff"/><rect x="522" y="464" width="45" height="8" fill="#0070ff"/><rect x="567" y="464" width="40" height="8" fill="#0060ff"/><rect x="607" y="464" width="20" height="8" fill="#0050ff"/><rect x="627" y="464" width="9" height="8" fill="#0040ff"/><rect x="636" y="464" width="6" height="8" fill="#0030ff"/><rect x="642" y="464" width="5" height="8" fill="#0020ff"/><rect x="647" y="464" width="50" height="8" fill="#0010ff"/><rect x="697" y="464" width="40" height="8" fill="#0000ff"/><rect x="737" y="464" width="5" height="8" fill="#0010ff"/><rect x="742" y="464" width="35" height="8" fill="#0020ff"/><rect x="777" y="464" width="45" height="8" fill="#0030ff"/><rect x="822" y="464" width="45" height="8" fill="#0040ff"/><rect x="867" y="464" width="9" height="8" fill="#0050ff"/><rect x="876" y="464" width="11" height="8" fill="#0060ff"/><rect x="887" y="464" width="30" height="8" fill="#0070ff"/><rect x="917" y="464" width="15" height="8" fill="#0080ff"/><rect x="932" y="464" width="10" height="8" fill="#008fff"/><rect x="942" y="464" width="15" height="8" fill="#009fff"/><rect x="957" y="464" width="20" height="8" fill="#00afff"/><rect x="977" y="464" width="20" height="8" fill="#00bfff"/><rect x="997" y="464" width="15" height="8" fill="#00cfff"/><rect x="1012" y="464" width="15" height="8" fill="#00dfff"/><rect x="1027" y="464" width="20" height="8" fill="#00ffff"/><rect x="1047" y="464" width="15" height="8" fill="#10ffef"/><rect x="1062" y="464" width="24" height="8" fill="#20ffdf"/><rect x="157" y="472" width="5" height="8" fill="#dfff20"/><rect x="162" y="472" width="15" height="8" fill="#ffdf00"/><rect x="177" y="472" width="5" height="8" fill="#ffbf00"/><rect x="182" y="472" width="10" height="8" fill="#ffaf00"/><rect x="192" y="472" width="10" height="8" fill="#ff8f00"/><rect x="202" y="472" width="5" height="8" fill="#ff8000"/><rect x="207" y="472" width="5" height="8" fill="#ff2000"/><rect x="212" y="472" width="10" height="8" fill="#ff0000"/><rect x="222" y="472" width="5" height="8" fill="#ef0000"/><rect x="227" y="472" width="5" height="8" fill="#cf0000"/><rect x="232" y="472" width="75" height="8" fill="#bf0000"/><rect x="307" y="472" width="15" height="8" fill="#ef0000"/><rect x="322" y="472" width="10" height="8" fill="#ff2000"/><rect x="332" y="472" width="5" height="8" fill="#ff3000"/><rect x="337" y="472" width="5" height="8" fill="#ff5000"/><rect x="342" y="472" width="5" height="8" fill="#ff6000"/><rect x="347" y="472" width="10" height="8" fill="#ff7000"/><rect x="357" y="472" width="5" height="8" fill="#ff8000"/><rect x="362" y="472" width="5" height="8" fill="#ff8f00"/><rect x="367" y="472" width="10" height="8" fill="#ff9f00"/><rect x="377" y="472" width="5" height="8" fill="#ffaf00"/><rect x="382" y="472" width="5" height="8" fill="#ffbf00"/><rect x="387" y="472" width="5" height="8" fill="#ffdf00"/><rect x="392" y="472" width="10" height="8" fill="#ffff00"/><rect x="402" y="472" width="5" height="8" fill="#efff10"/><rect x="407" y="472" width="5" height="8" fill="#dfff20"/><rect x="412" y="472" width="5" height="8" fill="#cfff30"/><rect x="417" y="472" width="5" height="8" fill="#bfff40"/><rect x="422" y="472" width="5" height="8" fill="#afff50"/><rect x="427" y="472" width="5" height="8" fill="#8fff70"/><rect x="432" y="472" width="5" height="8" fill="#80ff80"/><rect x="437" y="472" width="5" height="8" fill="#70ff8f"/><rect x="442" y="472" width="5" height="8" fill="#60ff9f"/><rect x="447" y="472" width="5" height="8" fill="#40ffbf"/><rect x="452" y="472" width="5" height="8" fill="#30ffcf"/><rect x="457" y="472" width="5" height="8" fill="#10ffef"/><rect x="462" y="472" width="5" height="8" fill="#00ffff"/><rect x="467" y="472" width="5" height="8" fill="#00dfff"/><rect x="472" y="472" width="5" height="8" fill="#00cfff"/><rect x="477" y="472" width="5" height="8" fill="#00bfff"/><rect x="482" y="472" width="5" height="8" fill="#00afff"/><rect x="487" y="472" width="5" height="8" fill="#009fff"/><rect x="492" y="472" width="5" height="8" fill="#008fff"/><rect x="497" y="472" width="5" height="8" fill="#0080ff"/><rect x="502" y="472" width="20" height="8" fill="#0070ff"/><rect x="522" y="472" width="40" height="8" fill="#0060ff"/><rect x="562" y="472" width="35" height="8" fill="#0050ff"/><rect x="597" y="472" width="39" height="8" fill="#0040ff"/><rect x="636" y="472" width="6" height="8" fill="#0030ff"/><rect x="642" y="472" width="5" height="8" fill="#0020ff"/><rect x="647" y="472" width="105" height="8" fill="#0010ff"/><rect x="752" y="472" width="25" height="8" fill="#0020ff"/><rect x="777" y="472" width="40" height="8" fill="#0030ff"/><rect x="817" y="472" width="50" height="8" fill="#0040ff"/><rect x="867" y="472" width="9" height="8" fill="#0050ff"/><rect x="876" y="472" width="1" height="8" fill="#0060ff"/><rect x="877" y="472" width="35" height="8" fill="#0070ff"/><rect x="912" y="472" width="10" height="8" fill="#0080ff"/><rect x="922" y="472" width="15" height="8" fill="#008fff"/><rect x="937" y="472" width="15" height="8" fill="#009fff"/><rect x="952" y="472" width="10" height="8" fill="#00afff"/><rect x="962" y="472" width="15" height="8" fill="#00bfff"/><rect x="977" y="472" width="15" height="8" fill="#00cfff"/><rect x="992" y="472" width="15" height="8" fill="#00dfff"/><rect x="1007" y="472" width="15" height="8" fill="#00ffff"/><rect x="1022" y="472" width="15" height="8" fill="#10ffef"/><rect x="1037" y="472" width="15" height="8" fill="#20ffdf"/><rect x="1052" y="472" width="20" height="8" fill="#30ffcf"/><rect x="1072" y="472" width="14" height="8" fill="#40ffbf"/><rect x="157" y="480" width="5" height="7" fill="#dfff20"/><rect x="162" y="480" width="5" height="7" fill="#ffff00"/><rect x="167" y="480" width="10" height="7" fill="#ffdf00"/><rect x="177" y="480" width="10" height="7" fill="#ffbf00"/><rect x="187" y="480" width="5" height="7" fill="#ffaf00"/><rect x="192" y="480" width="5" height="7" fill="#ff9f00"/><rect x="197" y="480" width="5" height="7" fill="#ff8000"/><rect x="202" y="480" width="5" height="7" fill="#ff7000"/><rect x="207" y="480" width="5" height="7" fill="#ff4000"/><rect x="212" y="480" width="5" height="7" fill="#ff3000"/><rect x="217" y="480" width="5" height="7" fill="#ff1000"/><rect x="222" y="480" width="5" height="7" fill="#ff0000"/><rect x="227" y="480" width="5" height="7" fill="#ef0000"/><rect x="232" y="480" width="5" height="7" fill="#df0000"/><rect x="237" y="480" width="70" height="7" fill="#bf0000"/><rect x="307" y="480" width="15" height="7" fill="#ef0000"/><rect x="322" y="480" width="10" height="7" fill="#ff2000"/><rect x="332" y="480" width="5" height="7" fill="#ff3000"/><rect x="337" y="480" width="5" height="7" fill="#ff5000"/><rect x="342" y="480" width="5" height="7" fill="#ff6000"/><rect x="347" y="480" width="5" height="7" fill="#ff7000"/><rect x="352" y="480" width="5" height="7" fill="#ff8000"/><rect x="357" y="480" width="10" height="7" fill="#ff8f00"/><rect x="367" y="480" width="10" height="7" fill="#ff9f00"/><rect x="377" y="480" width="5" height="7" fill="#ffaf00"/><rect x="382" y="480" width="5" height="7" fill="#ffbf00"/><rect x="387" y="480" width="5" height="7" fill="#ffdf00"/><rect x="392" y="480" width="4" height="7" fill="#ffef00"/><rect x="396" y="480" width="6" height="7" fill="#ffff00"/><rect x="402" y="480" width="5" height="7" fill="#efff10"/><rect x="407" y="480" width="15" height="7" fill="#dfff20"/><rect x="422" y="480" width="10" height="7" fill="#afff50"/><rect x="432" y="480" width="5" height="7" fill="#9fff60"/><rect x="437" y="480" width="10" height="7" fill="#70ff8f"/><rect x="447" y="480" width="5" height="7" fill="#50ffaf"/><rect x="452" y="480" width="5" height="7" fill="#20ffdf"/><rect x="457" y="480" width="5" height="7" fill="#10ffef"/><rect x="462" y="480" width="5" height="7" fill="#00efff"/><rect x="467" y="480" width="5" height="7" fill="#00dfff"/><rect x="472" y="480" width="10" height="7" fill="#00cfff"/><rect x="482" y="480" width="10" height="7" fill="#00afff"/><rect x="492" y="480" width="10" height="7" fill="#008fff"/><rect x="502" y="480" width="40" height="7" fill="#0080ff"/><rect x="542" y="480" width="94" height="7" fill="#0070ff"/><rect x="636" y="480" width="31" height="7" fill="#0060ff"/><rect x="667" y="480" width="110" height="7" fill="#0050ff"/><rect x="777" y="480" width="60" height="7" fill="#0060ff"/><rect x="837" y="480" width="39" height="7" fill="#0070ff"/><rect x="876" y="480" width="36" height="7" fill="#0080ff"/><rect x="912" y="480" width="25" height="7" fill="#009fff"/><rect x="937" y="480" width="30" height="7" fill="#00bfff"/><rect x="967" y="480" width="20" height="7" fill="#00dfff"/><rect x="987" y="480" width="20" height="7" fill="#00efff"/><rect x="1007" y="480" width="20" height="7" fill="#00ffff"/><rect x="1027" y="480" width="20" height="7" fill="#10ffef"/><rect x="1047" y="480" width="20" height="7" fill="#20ffdf"/><rect x="1067" y="480" width="5" height="7" fill="#30ffcf"/><rect x="1072" y="480" width="14" height="7" fill="#40ffbf"/><rect x="157" y="487" width="5" height="7" fill="#efff10"/><rect x="162" y="487" width="5" height="7" fill="#ffff00"/><rect x="167" y="487" width="10" height="7" fill="#ffdf00"/><rect x="177" y="487" width="10" height="7" fill="#ffbf00"/><rect x="187" y="487" width="10" height="7" fill="#ff9f00"/><rect x="197" y="487" width="5" height="7" fill="#ff8000"/><rect x="202" y="487" width="5" height="7" fill="#ff7000"/><rect x="207" y="487" width="5" height="7" fill="#ff5000"/><rect x="212" y="487" width="5" height="7" fill="#ff3000"/><rect x="217" y="487" width="5" height="7" fill="#ff2000"/><rect x="222" y="487" width="5" height="7" fill="#ff1000"/><rect x="227" y="487" width="5" height="7" fill="#ef0000"/><rect x="232" y="487" width="5" height="7" fill="#df0000"/><rect x="237" y="487" width="65" height="7" fill="#cf0000"/><rect x="302" y="487" width="10" height="7" fill="#df0000"/><rect x="312" y="487" width="5" height="7" fill="#ff0000"/><rect x="317" y="487" width="10" height="7" fill="#ff2000"/><rect x="327" y="487" width="5" height="7" fill="#ff4000"/><rect x="332" y="487" width="5" height="7" fill="#ff5000"/><rect x="337" y="487" width="5" height="7" fill="#ff6000"/><rect x="342" y="487" width="5" height="7" fill="#ff8000"/><rect x="347" y="487" width="5" height="7" fill="#ff8f00"/><rect x="352" y="487" width="10" height="7" fill="#ff9f00"/><rect x="362" y="487" width="15" height="7" fill="#ffaf00"/><rect x="377" y="487" width="10" height="7" fill="#ffcf00"/><rect x="387" y="487" width="9" height="7" fill="#ffdf00"/><rect x="396" y="487" width="6" height="7" fill="#ffff00"/><rect x="402" y="487" width="5" height="7" fill="#efff10"/><rect x="407" y="487" width="15" height="7" fill="#dfff20"/><rect x="422" y="487" width="10" height="7" fill="#bfff40"/><rect x="432" y="487" width="5" height="7" fill="#afff50"/><rect x="437" y="487" width="10" height="7" fill="#8fff70"/><rect x="447" y="487" width="5" height="7" fill="#80ff80"/><rect x="452" y="487" width="5" height="7" fill="#60ff9f"/><rect x="457" y="487" width="5" height="7" fill="#50ffaf"/><rect x="462" y="487" width="15" height="7" fill="#30ffcf"/><rect x="477" y="487" width="15" height="7" fill="#10ffef"/><rect x="492" y="487" width="15" height="7" fill="#00ffff"/><rect x="507" y="487" width="160" height="7" fill="#00efff"/><rect x="667" y="487" width="65" height="7" fill="#00dfff"/><rect x="732" y="487" width="35" height="7" fill="#00efff"/><rect x="767" y="487" width="150" height="7" fill="#00ffff"/><rect x="917" y="487" width="20" height="7" fill="#10ffef"/><rect x="937" y="487" width="20" height="7" fill="#20ffdf"/><rect x="957" y="487" width="20" height="7" fill="#30ffcf"/><rect x="977" y="487" width="20" height="7" fill="#40ffbf"/><rect x="997" y="487" width="20" height="7" fill="#50ffaf"/><rect x="1017" y="487" width="15" height="7" fill="#60ff9f"/><rect x="1032" y="487" width="20" height="7" fill="#70ff8f"/><rect x="1052" y="487" width="34" height="7" fill="#8fff70"/><rect x="157" y="494" width="5" height="8" fill="#efff10"/><rect x="162" y="494" width="5" height="8" fill="#ffff00"/><rect x="167" y="494" width="5" height="8" fill="#ffdf00"/><rect x="172" y="494" width="5" height="8" fill="#ffcf00"/><rect x="177" y="494" width="10" height="8" fill="#ffaf00"/><rect x="187" y="494" width="5" height="8" fill="#ff9f00"/><rect x="192" y="494" width="5" height="8" fill="#ff8f00"/><rect x="197" y="494" width="5" height="8" fill="#ff7000"/><rect x="202" y="494" width="5" height="8" fill="#ff6000"/><rect x="207" y="494" width="5" height="8" fill="#ff5000"/><rect x="212" y="494" width="5" height="8" fill="#ff3000"/><rect x="217" y="494" width="5" height="8" fill="#ff2000"/><rect x="222" y="494" width="10" height="8" fill="#ff1000"/><rect x="232" y="494" width="80" height="8" fill="#ef0000"/><rect x="312" y="494" width="5" height="8" fill="#ff1000"/><rect x="317" y="494" width="10" height="8" fill="#ff2000"/><rect x="327" y="494" width="10" height="8" fill="#ff4000"/><rect x="337" y="494" width="5" height="8" fill="#ff5000"/><rect x="342" y="494" width="5" height="8" fill="#ff7000"/><rect x="347" y="494" width="5" height="8" fill="#ff8000"/><rect x="352" y="494" width="10" height="8" fill="#ff8f00"/><rect x="362" y="494" width="15" height="8" fill="#ff9f00"/><rect x="377" y="494" width="10" height="8" fill="#ffaf00"/><rect x="387" y="494" width="9" height="8" fill="#ffbf00"/><rect x="396" y="494" width="6" height="8" fill="#ffef00"/><rect x="402" y="494" width="5" height="8" fill="#ffff00"/><rect x="407" y="494" width="15" height="8" fill="#efff10"/><rect x="422" y="494" width="15" height="8" fill="#cfff30"/><rect x="437" y="494" width="10" height="8" fill="#afff50"/><rect x="447" y="494" width="5" height="8" fill="#9fff60"/><rect x="452" y="494" width="25" height="8" fill="#8fff70"/><rect x="477" y="494" width="30" height="8" fill="#70ff8f"/><rect x="507" y="494" width="50" height="8" fill="#50ffaf"/><rect x="557" y="494" width="40" height="8" fill="#60ff9f"/><rect x="597" y="494" width="39" height="8" fill="#70ff8f"/><rect x="636" y="494" width="91" height="8" fill="#8fff70"/><rect x="727" y="494" width="149" height="8" fill="#80ff80"/><rect x="876" y="494" width="6" height="8" fill="#70ff8f"/><rect x="882" y="494" width="20" height="8" fill="#80ff80"/><rect x="902" y="494" width="25" height="8" fill="#70ff8f"/><rect x="927" y="494" width="50" height="8" fill="#80ff80"/><rect x="977" y="494" width="50" height="8" fill="#8fff70"/><rect x="1027" y="494" width="35" height="8" fill="#9fff60"/><rect x="1062" y="494" width="24" height="8" fill="#afff50"/><rect x="157" y="502" width="5" height="7" fill="#efff10"/><rect x="162" y="502" width="5" height="7" fill="#ffff00"/><rect x="167" y="502" width="10" height="7" fill="#ffcf00"/><rect x="177" y="502" width="10" height="7" fill="#ffaf00"/><rect x="187" y="502" width="10" height="7" fill="#ff8f00"/><rect x="197" y="502" width="5" height="7" fill="#ff7000"/><rect x="202" y="502" width="5" height="7" fill="#ff6000"/><rect x="207" y="502" width="5" height="7" fill="#ff5000"/><rect x="212" y="502" width="5" height="7" fill="#ff3000"/><rect x="217" y="502" width="5" height="7" fill="#ff2000"/><rect x="222" y="502" width="10" height="7" fill="#ff1000"/><rect x="232" y="502" width="80" height="7" fill="#ff0000"/><rect x="312" y="502" width="5" height="7" fill="#ff1000"/><rect x="317" y="502" width="10" height="7" fill="#ff2000"/><rect x="327" y="502" width="10" height="7" fill="#ff4000"/><rect x="337" y="502" width="5" height="7" fill="#ff5000"/><rect x="342" y="502" width="20" height="7" fill="#ff7000"/><rect x="362" y="502" width="5" height="7" fill="#ff8000"/><rect x="367" y="502" width="10" height="7" fill="#ff8f00"/><rect x="377" y="502" width="19" height="7" fill="#ff9f00"/><rect x="396" y="502" width="6" height="7" fill="#ffdf00"/><rect x="402" y="502" width="5" height="7" fill="#ffef00"/><rect x="407" y="502" width="15" height="7" fill="#ffff00"/><rect x="422" y="502" width="15" height="7" fill="#dfff20"/><rect x="437" y="502" width="15" height="7" fill="#cfff30"/><rect x="452" y="502" width="25" height="7" fill="#bfff40"/><rect x="477" y="502" width="80" height="7" fill="#afff50"/><rect x="557" y="502" width="40" height="7" fill="#cfff30"/><rect x="597" y="502" width="39" height="7" fill="#efff10"/><rect x="636" y="502" width="11" height="7" fill="#ffff00"/><rect x="647" y="502" width="5" height="7" fill="#ffef00"/><rect x="652" y="502" width="80" height="7" fill="#ffdf00"/><rect x="732" y="502" width="105" height="7" fill="#ffcf00"/><rect x="837" y="502" width="20" height="7" fill="#ffdf00"/><rect x="857" y="502" width="19" height="7" fill="#ffef00"/><rect x="876" y="502" width="1" height="7" fill="#efff10"/><rect x="877" y="502" width="30" height="7" fill="#dfff20"/><rect x="907" y="502" width="85" height="7" fill="#cfff30"/><rect x="992" y="502" width="60" height="7" fill="#bfff40"/><rect x="1052" y="502" width="34" height="7" fill="#afff50"/><rect x="157" y="509" width="5" height="7" fill="#ffff00"/><rect x="162" y="509" width="5" height="7" fill="#ffef00"/><rect x="167" y="509" width="10" height="7" fill="#ffcf00"/><rect x="177" y="509" width="10" height="7" fill="#ffaf00"/><rect x="187" y="509" width="5" height="7" fill="#ff9f00"/><rect x="192" y="509" width="5" height="7" fill="#ff8f00"/><rect x="197" y="509" width="5" height="7" fill="#ff7000"/><rect x="202" y="509" width="5" height="7" fill="#ff6000"/><rect x="207" y="509" width="5" height="7" fill="#ff5000"/><rect x="212" y="509" width="15" height="7" fill="#ff3000"/><rect x="227" y="509" width="5" height="7" fill="#ff2000"/><rect x="232" y="509" width="70" height="7" fill="#ff1000"/><rect x="302" y="509" width="10" height="7" fill="#ff2000"/><rect x="312" y="509" width="5" height="7" fill="#ff3000"/><rect x="317" y="509" width="10" height="7" fill="#ff4000"/><rect x="327" y="509" width="35" height="7" fill="#ff5000"/><rect x="362" y="509" width="5" height="7" fill="#ff7000"/><rect x="367" y="509" width="29" height="7" fill="#ff8000"/><rect x="396" y="509" width="6" height="7" fill="#ffcf00"/><rect x="402" y="509" width="20" height="7" fill="#ffdf00"/><rect x="422" y="509" width="15" height="7" fill="#ffef00"/><rect x="437" y="509" width="40" height="7" fill="#ffff00"/><rect x="477" y="509" width="25" height="7" fill="#ffef00"/><rect x="502" y="509" width="25" height="7" fill="#ffdf00"/><rect x="527" y="509" width="30" height="7" fill="#ffbf00"/><rect x="557" y="509" width="40" height="7" fill="#ffaf00"/><rect x="597" y="509" width="39" height="7" fill="#ff8f00"/><rect x="636" y="509" width="101" height="7" fill="#ff8000"/><rect x="737" y="509" width="60" height="7" fill="#ff7000"/><rect x="797" y="509" width="20" height="7" fill="#ff6000"/><rect x="817" y="509" width="59" height="7" fill="#ff7000"/><rect x="876" y="509" width="11" height="7" fill="#ff8000"/><rect x="887" y="509" width="35" height="7" fill="#ff8f00"/><rect x="922" y="509" width="30" height="7" fill="#ffaf00"/><rect x="952" y="509" width="25" height="7" fill="#ffbf00"/><rect x="977" y="509" width="30" height="7" fill="#ffcf00"/><rect x="1007" y="509" width="15" height="7" fill="#ffdf00"/><rect x="1022" y="509" width="5" height="7" fill="#ffef00"/><rect x="1027" y="509" width="25" height="7" fill="#ffff00"/><rect x="1052" y="509" width="20" height="7" fill="#efff10"/><rect x="1072" y="509" width="5" height="7" fill="#dfff20"/><rect x="1077" y="509" width="9" height="7" fill="#cfff30"/><rect x="157" y="516" width="5" height="7" fill="#ffef00"/><rect x="162" y="516" width="5" height="7" fill="#ffcf00"/><rect x="167" y="516" width="15" height="7" fill="#ffaf00"/><rect x="182" y="516" width="5" height="7" fill="#ff9f00"/><rect x="187" y="516" width="10" height="7" fill="#ff8f00"/><rect x="197" y="516" width="5" height="7" fill="#ff8000"/><rect x="202" y="516" width="5" height="7" fill="#ff7000"/><rect x="207" y="516" width="5" height="7" fill="#ff6000"/><rect x="212" y="516" width="10" height="7" fill="#ff5000"/><rect x="222" y="516" width="10" height="7" fill="#ff4000"/><rect x="232" y="516" width="80" height="7" fill="#ff3000"/><rect x="312" y="516" width="5" height="7" fill="#ff4000"/><rect x="317" y="516" width="10" height="7" fill="#ff5000"/><rect x="327" y="516" width="20" height="7" fill="#ff6000"/><rect x="347" y="516" width="15" height="7" fill="#ff7000"/><rect x="362" y="516" width="34" height="7" fill="#ff8000"/><rect x="396" y="516" width="6" height="7" fill="#ffaf00"/><rect x="402" y="516" width="50" height="7" fill="#ffbf00"/><rect x="452" y="516" width="50" height="7" fill="#ffaf00"/><rect x="502" y="516" width="25" height="7" fill="#ff8f00"/><rect x="527" y="516" width="30" height="7" fill="#ff7000"/><rect x="557" y="516" width="40" height="7" fill="#ff6000"/><rect x="597" y="516" width="39" height="7" fill="#ff4000"/><rect x="636" y="516" width="31" height="7" fill="#ff3000"/><rect x="667" y="516" width="30" height="7" fill="#ff1000"/><rect x="697" y="516" width="60" height="7" fill="#ff0000"/><rect x="757" y="516" width="119" height="7" fill="#ef0000"/><rect x="876" y="516" width="11" height="7" fill="#ff0000"/><rect x="887" y="516" width="25" height="7" fill="#ff1000"/><rect x="912" y="516" width="30" height="7" fill="#ff3000"/><rect x="942" y="516" width="25" height="7" fill="#ff5000"/><rect x="967" y="516" width="5" height="7" fill="#ff6000"/><rect x="972" y="516" width="25" height="7" fill="#ff7000"/><rect x="997" y="516" width="25" height="7" fill="#ff8f00"/><rect x="1022" y="516" width="5" height="7" fill="#ff9f00"/><rect x="1027" y="516" width="25" height="7" fill="#ffbf00"/><rect x="1052" y="516" width="15" height="7" fill="#ffdf00"/><rect x="1067" y="516" width="19" height="7" fill="#ffef00"/><rect x="157" y="523" width="5" height="7" fill="#ffdf00"/><rect x="162" y="523" width="15" height="7" fill="#ffbf00"/><rect x="177" y="523" width="15" height="7" fill="#ffaf00"/><rect x="192" y="523" width="10" height="7" fill="#ff8f00"/><rect x="202" y="523" width="5" height="7" fill="#ff8000"/><rect x="207" y="523" width="15" height="7" fill="#ff7000"/><rect x="222" y="523" width="5" height="7" fill="#ff6000"/><rect x="227" y="523" width="100" height="7" fill="#ff5000"/><rect x="327" y="523" width="69" height="7" fill="#ff7000"/><rect x="396" y="523" width="56" height="7" fill="#ff8f00"/><rect x="452" y="523" width="25" height="7" fill="#ff8000"/><rect x="477" y="523" width="25" height="7" fill="#ff6000"/><rect x="502" y="523" width="25" height="7" fill="#ff5000"/><rect x="527" y="523" width="30" height="7" fill="#ff3000"/><rect x="557" y="523" width="40" height="7" fill="#ff2000"/><rect x="597" y="523" width="39" height="7" fill="#ff1000"/><rect x="636" y="523" width="6" height="7" fill="#ff0000"/><rect x="642" y="523" width="35" height="7" fill="#ef0000"/><rect x="677" y="523" width="115" height="7" fill="#df0000"/><rect x="792" y="523" width="65" height="7" fill="#cf0000"/><rect x="857" y="523" width="19" height="7" fill="#df0000"/><rect x="876" y="523" width="26" height="7" fill="#cf0000"/><rect x="902" y="523" width="45" height="7" fill="#df0000"/><rect x="947" y="523" width="20" height="7" fill="#ff0000"/><rect x="967" y="523" width="5" height="7" fill="#ff1000"/><rect x="972" y="523" width="25" height="7" fill="#ff2000"/><rect x="997" y="523" width="20" height="7" fill="#ff4000"/><rect x="1017" y="523" width="5" height="7" fill="#ff5000"/><rect x="1022" y="523" width="20" height="7" fill="#ff6000"/><rect x="1042" y="523" width="20" height="7" fill="#ff8000"/><rect x="1062" y="523" width="10" height="7" fill="#ff9f00"/><rect x="1072" y="523" width="14" height="7" fill="#ffaf00"/><rect x="157" y="530" width="10" height="6" fill="#ffcf00"/><rect x="167" y="530" width="10" height="6" fill="#ffbf00"/><rect x="177" y="530" width="15" height="6" fill="#ffaf00"/><rect x="192" y="530" width="10" height="6" fill="#ff9f00"/><rect x="202" y="530" width="5" height="6" fill="#ff8f00"/><rect x="207" y="530" width="25" height="6" fill="#ff8000"/><rect x="232" y="530" width="5" height="6" fill="#ff7000"/><rect x="237" y="530" width="50" height="6" fill="#ff8000"/><rect x="287" y="530" width="15" height="6" fill="#ff8f00"/><rect x="302" y="530" width="25" height="6" fill="#ff8000"/><rect x="327" y="530" width="30" height="6" fill="#ff7000"/><rect x="357" y="530" width="20" height="6" fill="#ff6000"/><rect x="377" y="530" width="19" height="6" fill="#ff4000"/><rect x="396" y="530" width="26" height="6" fill="#ff7000"/><rect x="422" y="530" width="30" height="6" fill="#ff6000"/><rect x="452" y="530" width="25" height="6" fill="#ff5000"/><rect x="477" y="530" width="25" height="6" fill="#ff3000"/><rect x="502" y="530" width="25" height="6" fill="#ff1000"/><rect x="527" y="530" width="70" height="6" fill="#ff0000"/><rect x="597" y="530" width="45" height="6" fill="#ef0000"/><rect x="642" y="530" width="165" height="6" fill="#df0000"/><rect x="807" y="530" width="69" height="6" fill="#cf0000"/><rect x="876" y="530" width="11" height="6" fill="#bf0000"/><rect x="887" y="530" width="30" height="6" fill="#af0000"/><rect x="917" y="530" width="30" height="6" fill="#bf0000"/><rect x="947" y="530" width="25" height="6" fill="#df0000"/><rect x="972" y="530" width="20" height="6" fill="#ff0000"/><rect x="992" y="530" width="5" height="6" fill="#ff1000"/><rect x="997" y="530" width="20" height="6" fill="#ff2000"/><rect x="1017" y="530" width="20" height="6" fill="#ff4000"/><rect x="1037" y="530" width="5" height="6" fill="#ff5000"/><rect x="1042" y="530" width="15" height="6" fill="#ff6000"/><rect x="1057" y="530" width="15" height="6" fill="#ff8000"/><rect x="1072" y="530" width="14" height="6" fill="#ff9f00"/><rect x="157" y="536" width="10" height="7" fill="#ffbf00"/><rect x="167" y="536" width="35" height="7" fill="#ffaf00"/><rect x="202" y="536" width="5" height="7" fill="#ff9f00"/><rect x="207" y="536" width="40" height="7" fill="#ff8f00"/><rect x="247" y="536" width="20" height="7" fill="#ff9f00"/><rect x="267" y="536" width="30" height="7" fill="#ffaf00"/><rect x="297" y="536" width="5" height="7" fill="#ff9f00"/><rect x="302" y="536" width="25" height="7" fill="#ff8f00"/><rect x="327" y="536" width="25" height="7" fill="#ff7000"/><rect x="352" y="536" width="5" height="7" fill="#ff6000"/><rect x="357" y="536" width="20" height="7" fill="#ff4000"/><rect x="377" y="536" width="19" height="7" fill="#ff3000"/><rect x="396" y="536" width="26" height="7" fill="#ff6000"/><rect x="422" y="536" width="25" height="7" fill="#ff4000"/><rect x="447" y="536" width="5" height="7" fill="#ff3000"/><rect x="452" y="536" width="25" height="7" fill="#ff2000"/><rect x="477" y="536" width="25" height="7" fill="#ff0000"/><rect x="502" y="536" width="165" height="7" fill="#ef0000"/><rect x="667" y="536" width="90" height="7" fill="#df0000"/><rect x="757" y="536" width="55" height="7" fill="#ef0000"/><rect x="812" y="536" width="30" height="7" fill="#df0000"/><rect x="842" y="536" width="5" height="7" fill="#cf0000"/><rect x="847" y="536" width="30" height="7" fill="#bf0000"/><rect x="877" y="536" width="30" height="7" fill="#af0000"/><rect x="907" y="536" width="35" height="7" fill="#9f0000"/><rect x="942" y="536" width="20" height="7" fill="#af0000"/><rect x="962" y="536" width="25" height="7" fill="#cf0000"/><rect x="987" y="536" width="25" height="7" fill="#ef0000"/><rect x="1012" y="536" width="20" height="7" fill="#ff1000"/><rect x="1032" y="536" width="20" height="7" fill="#ff4000"/><rect x="1052" y="536" width="15" height="7" fill="#ff6000"/><rect x="1067" y="536" width="19" height="7" fill="#ff8000"/><rect x="157" y="543" width="20" height="6" fill="#ffbf00"/><rect x="177" y="543" width="25" height="6" fill="#ffaf00"/><rect x="202" y="543" width="25" height="6" fill="#ff9f00"/><rect x="227" y="543" width="20" height="6" fill="#ffaf00"/><rect x="247" y="543" width="15" height="6" fill="#ffbf00"/><rect x="262" y="543" width="35" height="6" fill="#ffdf00"/><rect x="297" y="543" width="5" height="6" fill="#ffcf00"/><rect x="302" y="543" width="10" height="6" fill="#ffaf00"/><rect x="312" y="543" width="5" height="6" fill="#ff9f00"/><rect x="317" y="543" width="10" height="6" fill="#ff8f00"/><rect x="327" y="543" width="5" height="6" fill="#ff7000"/><rect x="332" y="543" width="15" height="6" fill="#ff6000"/><rect x="347" y="543" width="5" height="6" fill="#ff4000"/><rect x="352" y="543" width="25" height="6" fill="#ff3000"/><rect x="377" y="543" width="19" height="6" fill="#ff1000"/><rect x="396" y="543" width="26" height="6" fill="#ff5000"/><rect x="422" y="543" width="25" height="6" fill="#ff3000"/><rect x="447" y="543" width="5" height="6" fill="#ff2000"/><rect x="452" y="543" width="25" height="6" fill="#ff1000"/><rect x="477" y="543" width="125" height="6" fill="#ff0000"/><rect x="602" y="543" width="220" height="6" fill="#ff1000"/><rect x="822" y="543" width="54" height="6" fill="#ff0000"/><rect x="876" y="543" width="6" height="6" fill="#df0000"/><rect x="882" y="543" width="110" height="6" fill="#cf0000"/><rect x="992" y="543" width="30" height="6" fill="#ff0000"/><rect x="1022" y="543" width="5" height="6" fill="#ff1000"/><rect x="1027" y="543" width="25" height="6" fill="#ff2000"/><rect x="1052" y="543" width="20" height="6" fill="#ff4000"/><rect x="1072" y="543" width="14" height="6" fill="#ff6000"/><rect x="157" y="549" width="5" height="7" fill="#ffaf00"/><rect x="162" y="549" width="25" height="7" fill="#ffbf00"/><rect x="187" y="549" width="20" height="7" fill="#ffaf00"/><rect x="207" y="549" width="25" height="7" fill="#ffbf00"/><rect x="232" y="549" width="15" height="7" fill="#ffcf00"/><rect x="247" y="549" width="15" height="7" fill="#ffdf00"/><rect x="262" y="549" width="35" height="7" fill="#ffef00"/><rect x="297" y="549" width="5" height="7" fill="#ffdf00"/><rect x="302" y="549" width="10" height="7" fill="#ffbf00"/><rect x="312" y="549" width="5" height="7" fill="#ff9f00"/><rect x="317" y="549" width="10" height="7" fill="#ff8f00"/><rect x="327" y="549" width="5" height="7" fill="#ff7000"/><rect x="332" y="549" width="15" height="7" fill="#ff6000"/><rect x="347" y="549" width="5" height="7" fill="#ff3000"/><rect x="352" y="549" width="25" height="7" fill="#ff2000"/><rect x="377" y="549" width="19" height="7" fill="#ff0000"/><rect x="396" y="549" width="26" height="7" fill="#ff4000"/><rect x="422" y="549" width="30" height="7" fill="#ff2000"/><rect x="452" y="549" width="50" height="7" fill="#ff1000"/><rect x="502" y="549" width="70" height="7" fill="#ff2000"/><rect x="572" y="549" width="30" height="7" fill="#ff3000"/><rect x="602" y="549" width="165" height="7" fill="#ff4000"/><rect x="767" y="549" width="45" height="7" fill="#ff3000"/><rect x="812" y="549" width="64" height="7" fill="#ff2000"/><rect x="876" y="549" width="11" height="7" fill="#ff0000"/><rect x="887" y="549" width="165" height="7" fill="#ef0000"/><rect x="1052" y="549" width="34" height="7" fill="#ff1000"/><rect x="157" y="556" width="40" height="6" fill="#ffaf00"/><rect x="197" y="556" width="30" height="6" fill="#ff9f00"/><rect x="227" y="556" width="20" height="6" fill="#ffaf00"/><rect x="247" y="556" width="30" height="6" fill="#ffbf00"/><rect x="277" y="556" width="20" height="6" fill="#ffdf00"/><rect x="297" y="556" width="5" height="6" fill="#ffcf00"/><rect x="302" y="556" width="20" height="6" fill="#ffaf00"/><rect x="322" y="556" width="5" height="6" fill="#ff9f00"/><rect x="327" y="556" width="15" height="6" fill="#ff8000"/><rect x="342" y="556" width="5" height="6" fill="#ff7000"/><rect x="347" y="556" width="25" height="6" fill="#ff4000"/><rect x="372" y="556" width="5" height="6" fill="#ff3000"/><rect x="377" y="556" width="19" height="6" fill="#ff1000"/><rect x="396" y="556" width="26" height="6" fill="#ff3000"/><rect x="422" y="556" width="35" height="6" fill="#ff4000"/><rect x="457" y="556" width="20" height="6" fill="#ff5000"/><rect x="477" y="556" width="60" height="6" fill="#ff6000"/><rect x="537" y="556" width="40" height="6" fill="#ff7000"/><rect x="577" y="556" width="30" height="6" fill="#ff8000"/><rect x="607" y="556" width="130" height="6" fill="#ff8f00"/><rect x="737" y="556" width="40" height="6" fill="#ff8000"/><rect x="777" y="556" width="40" height="6" fill="#ff7000"/><rect x="817" y="556" width="40" height="6" fill="#ff6000"/><rect x="857" y="556" width="35" height="6" fill="#ff5000"/><rect x="892" y="556" width="40" height="6" fill="#ff4000"/><rect x="932" y="556" width="30" height="6" fill="#ff3000"/><rect x="962" y="556" width="45" height="6" fill="#ff2000"/><rect x="1007" y="556" width="79" height="6" fill="#ff1000"/><rect x="157" y="562" width="15" height="6" fill="#ffaf00"/><rect x="172" y="562" width="20" height="6" fill="#ff9f00"/><rect x="192" y="562" width="40" height="6" fill="#ff8f00"/><rect x="232" y="562" width="55" height="6" fill="#ff9f00"/><rect x="287" y="562" width="15" height="6" fill="#ff8f00"/><rect x="302" y="562" width="5" height="6" fill="#ff8000"/><rect x="307" y="562" width="15" height="6" fill="#ff7000"/><rect x="322" y="562" width="5" height="6" fill="#ff6000"/><rect x="327" y="562" width="15" height="6" fill="#ff4000"/><rect x="342" y="562" width="5" height="6" fill="#ff3000"/><rect x="347" y="562" width="30" height="6" fill="#ff1000"/><rect x="377" y="562" width="25" height="6" fill="#ff0000"/><rect x="402" y="562" width="20" height="6" fill="#ff2000"/><rect x="422" y="562" width="15" height="6" fill="#ff3000"/><rect x="437" y="562" width="15" height="6" fill="#ff5000"/><rect x="452" y="562" width="10" height="6" fill="#ff6000"/><rect x="462" y="562" width="15" height="6" fill="#ff8000"/><rect x="477" y="562" width="25" height="6" fill="#ff9f00"/><rect x="502" y="562" width="25" height="6" fill="#ffaf00"/><rect x="527" y="562" width="50" height="6" fill="#ffbf00"/><rect x="577" y="562" width="59" height="6" fill="#ffcf00"/><rect x="636" y="562" width="16" height="6" fill="#ffdf00"/><rect x="652" y="562" width="85" height="6" fill="#ffff00"/><rect x="737" y="562" width="40" height="6" fill="#ffdf00"/><rect x="777" y="562" width="40" height="6" fill="#ffbf00"/><rect x="817" y="562" width="40" height="6" fill="#ff9f00"/><rect x="857" y="562" width="40" height="6" fill="#ff8000"/><rect x="897" y="562" width="35" height="6" fill="#ff7000"/><rect x="932" y="562" width="30" height="6" fill="#ff6000"/><rect x="962" y="562" width="45" height="6" fill="#ff5000"/><rect x="1007" y="562" width="45" height="6" fill="#ff4000"/><rect x="1052" y="562" width="34" height="6" fill="#ff3000"/><rect x="157" y="568" width="10" height="6" fill="#ff8000"/><rect x="167" y="568" width="70" height="6" fill="#ff7000"/><rect x="237" y="568" width="60" height="6" fill="#ff8000"/><rect x="297" y="568" width="15" height="6" fill="#ff6000"/><rect x="312" y="568" width="5" height="6" fill="#ff5000"/><rect x="317" y="568" width="15" height="6" fill="#ff3000"/><rect x="332" y="568" width="5" height="6" fill="#ff2000"/><rect x="337" y="568" width="40" height="6" fill="#ff0000"/><rect x="377" y="568" width="19" height="6" fill="#ef0000"/><rect x="396" y="568" width="6" height="6" fill="#ff0000"/><rect x="402" y="568" width="20" height="6" fill="#ff2000"/><rect x="422" y="568" width="15" height="6" fill="#ff4000"/><rect x="437" y="568" width="10" height="6" fill="#ff6000"/><rect x="447" y="568" width="5" height="6" fill="#ff7000"/><rect x="452" y="568" width="10" height="6" fill="#ff8f00"/><rect x="462" y="568" width="5" height="6" fill="#ffaf00"/><rect x="467" y="568" width="10" height="6" fill="#ffbf00"/><rect x="477" y="568" width="5" height="6" fill="#ffcf00"/><rect x="482" y="568" width="15" height="6" fill="#ffdf00"/><rect x="497" y="568" width="5" height="6" fill="#ffef00"/><rect x="502" y="568" width="15" height="6" fill="#ffff00"/><rect x="517" y="568" width="40" height="6" fill="#efff10"/><rect x="557" y="568" width="40" height="6" fill="#dfff20"/><rect x="597" y="568" width="39" height="6" fill="#cfff30"/><rect x="636" y="568" width="21" height="6" fill="#bfff40"/><rect x="657" y="568" width="60" height="6" fill="#afff50"/><rect x="717" y="568" width="40" height="6" fill="#cfff30"/><rect x="757" y="568" width="30" height="6" fill="#efff10"/><rect x="787" y="568" width="25" height="6" fill="#ffef00"/><rect x="812" y="568" width="5" height="6" fill="#ffdf00"/><rect x="817" y="568" width="40" height="6" fill="#ffbf00"/><rect x="857" y="568" width="30" height="6" fill="#ff9f00"/><rect x="887" y="568" width="45" height="6" fill="#ff8f00"/><rect x="932" y="568" width="35" height="6" fill="#ff8000"/><rect x="967" y="568" width="45" height="6" fill="#ff7000"/><rect x="1012" y="568" width="60" height="6" fill="#ff6000"/><rect x="1072" y="568" width="14" height="6" fill="#ff5000"/><rect x="157" y="574" width="10" height="6" fill="#ff8000"/><rect x="167" y="574" width="15" height="6" fill="#ff6000"/><rect x="182" y="574" width="115" height="6" fill="#ff5000"/><rect x="297" y="574" width="30" height="6" fill="#ff3000"/><rect x="327" y="574" width="30" height="6" fill="#ff1000"/><rect x="357" y="574" width="25" height="6" fill="#ef0000"/><rect x="382" y="574" width="20" height="6" fill="#ff1000"/><rect x="402" y="574" width="20" height="6" fill="#ff3000"/><rect x="422" y="574" width="15" height="6" fill="#ff6000"/><rect x="437" y="574" width="10" height="6" fill="#ff8000"/><rect x="447" y="574" width="5" height="6" fill="#ff8f00"/><rect x="452" y="574" width="10" height="6" fill="#ff9f00"/><rect x="462" y="574" width="15" height="6" fill="#ffbf00"/><rect x="477" y="574" width="15" height="6" fill="#ffdf00"/><rect x="492" y="574" width="10" height="6" fill="#ffff00"/><rect x="502" y="574" width="5" height="6" fill="#efff10"/><rect x="507" y="574" width="10" height="6" fill="#dfff20"/><rect x="517" y="574" width="40" height="6" fill="#bfff40"/><rect x="557" y="574" width="40" height="6" fill="#afff50"/><rect x="597" y="574" width="39" height="6" fill="#9fff60"/><rect x="636" y="574" width="21" height="6" fill="#60ff9f"/><rect x="657" y="574" width="35" height="6" fill="#50ffaf"/><rect x="692" y="574" width="5" height="6" fill="#60ff9f"/><rect x="697" y="574" width="45" height="6" fill="#80ff80"/><rect x="742" y="574" width="5" height="6" fill="#8fff70"/><rect x="747" y="574" width="25" height="6" fill="#afff50"/><rect x="772" y="574" width="5" height="6" fill="#bfff40"/><rect x="777" y="574" width="25" height="6" fill="#dfff20"/><rect x="802" y="574" width="5" height="6" fill="#efff10"/><rect x="807" y="574" width="30" height="6" fill="#ffef00"/><rect x="837" y="574" width="39" height="6" fill="#ffcf00"/><rect x="876" y="574" width="41" height="6" fill="#ffaf00"/><rect x="917" y="574" width="60" height="6" fill="#ff9f00"/><rect x="977" y="574" width="50" height="6" fill="#ff8f00"/><rect x="1027" y="574" width="45" height="6" fill="#ff8000"/><rect x="1072" y="574" width="14" height="6" fill="#ff7000"/><rect x="157" y="580" width="10" height="6" fill="#ff7000"/><rect x="167" y="580" width="10" height="6" fill="#ff5000"/><rect x="177" y="580" width="20" height="6" fill="#ff4000"/><rect x="197" y="580" width="100" height="6" fill="#ff3000"/><rect x="297" y="580" width="30" height="6" fill="#ff1000"/><rect x="327" y="580" width="30" height="6" fill="#ff0000"/><rect x="357" y="580" width="20" height="6" fill="#ef0000"/><rect x="377" y="580" width="10" height="6" fill="#ff1000"/><rect x="387" y="580" width="9" height="6" fill="#ff2000"/><rect x="396" y="580" width="6" height="6" fill="#ff1000"/><rect x="402" y="580" width="5" height="6" fill="#ff3000"/><rect x="407" y="580" width="15" height="6" fill="#ff4000"/><rect x="422" y="580" width="15" height="6" fill="#ff7000"/><rect x="437" y="580" width="10" height="6" fill="#ff8f00"/><rect x="447" y="580" width="5" height="6" fill="#ff9f00"/><rect x="452" y="580" width="10" height="6" fill="#ffaf00"/><rect x="462" y="580" width="10" height="6" fill="#ffcf00"/><rect x="472" y="580" width="5" height="6" fill="#ffdf00"/><rect x="477" y="580" width="15" height="6" fill="#ffff00"/><rect x="492" y="580" width="10" height="6" fill="#dfff20"/><rect x="502" y="580" width="5" height="6" fill="#bfff40"/><rect x="507" y="580" width="45" height="6" fill="#9fff60"/><rect x="552" y="580" width="5" height="6" fill="#8fff70"/><rect x="557" y="580" width="35" height="6" fill="#70ff8f"/><rect x="592" y="580" width="5" height="6" fill="#60ff9f"/><rect x="597" y="580" width="39" height="6" fill="#40ffbf"/><rect x="636" y="580" width="21" height="6" fill="#30ffcf"/><rect x="657" y="580" width="40" height="6" fill="#20ffdf"/><rect x="697" y="580" width="20" height="6" fill="#40ffbf"/><rect x="717" y="580" width="25" height="6" fill="#60ff9f"/><rect x="742" y="580" width="5" height="6" fill="#70ff8f"/><rect x="747" y="580" width="25" height="6" fill="#9fff60"/><rect x="772" y="580" width="5" height="6" fill="#afff50"/><rect x="777" y="580" width="25" height="6" fill="#cfff30"/><rect x="802" y="580" width="5" height="6" fill="#dfff20"/><rect x="807" y="580" width="20" height="6" fill="#ffff00"/><rect x="827" y="580" width="49" height="6" fill="#ffdf00"/><rect x="876" y="580" width="21" height="6" fill="#ffbf00"/><rect x="897" y="580" width="90" height="6" fill="#ffaf00"/><rect x="987" y="580" width="45" height="6" fill="#ff9f00"/><rect x="1032" y="580" width="30" height="6" fill="#ff8f00"/><rect x="1062" y="580" width="24" height="6" fill="#ff8000"/><rect x="157" y="586" width="5" height="6" fill="#ff3000"/><rect x="162" y="586" width="15" height="6" fill="#ff2000"/><rect x="177" y="586" width="20" height="6" fill="#ff1000"/><rect x="197" y="586" width="100" height="6" fill="#ff0000"/><rect x="297" y="586" width="80" height="6" fill="#ef0000"/><rect x="377" y="586" width="10" height="6" fill="#ff1000"/><rect x="387" y="586" width="15" height="6" fill="#ff2000"/><rect x="402" y="586" width="20" height="6" fill="#ff4000"/><rect x="422" y="586" width="10" height="6" fill="#ff7000"/><rect x="432" y="586" width="5" height="6" fill="#ff8000"/><rect x="437" y="586" width="10" height="6" fill="#ff9f00"/><rect x="447" y="586" width="5" height="6" fill="#ffaf00"/><rect x="452" y="586" width="10" height="6" fill="#ffbf00"/><rect x="462" y="586" width="10" height="6" fill="#ffdf00"/><rect x="472" y="586" width="5" height="6" fill="#ffef00"/><rect x="477" y="586" width="15" height="6" fill="#efff10"/><rect x="492" y="586" width="10" height="6" fill="#cfff30"/><rect x="502" y="586" width="5" height="6" fill="#afff50"/><rect x="507" y="586" width="45" height="6" fill="#8fff70"/><rect x="552" y="586" width="5" height="6" fill="#80ff80"/><rect x="557" y="586" width="40" height="6" fill="#60ff9f"/><rect x="597" y="586" width="39" height="6" fill="#40ffbf"/><rect x="636" y="586" width="36" height="6" fill="#10ffef"/><rect x="672" y="586" width="25" height="6" fill="#00ffff"/><rect x="697" y="586" width="15" height="6" fill="#20ffdf"/><rect x="712" y="586" width="5" height="6" fill="#30ffcf"/><rect x="717" y="586" width="25" height="6" fill="#50ffaf"/><rect x="742" y="586" width="5" height="6" fill="#60ff9f"/><rect x="747" y="586" width="25" height="6" fill="#8fff70"/><rect x="772" y="586" width="5" height="6" fill="#9fff60"/><rect x="777" y="586" width="25" height="6" fill="#cfff30"/><rect x="802" y="586" width="5" height="6" fill="#dfff20"/><rect x="807" y="586" width="20" height="6" fill="#ffff00"/><rect x="827" y="586" width="49" height="6" fill="#ffdf00"/><rect x="876" y="586" width="1" height="6" fill="#ffcf00"/><rect x="877" y="586" width="65" height="6" fill="#ffbf00"/><rect x="942" y="586" width="60" height="6" fill="#ffaf00"/><rect x="1002" y="586" width="30" height="6" fill="#ff9f00"/><rect x="1032" y="586" width="30" height="6" fill="#ff8f00"/><rect x="1062" y="586" width="24" height="6" fill="#ff8000"/><rect x="157" y="592" width="15" height="6" fill="#ef0000"/><rect x="172" y="592" width="15" height="6" fill="#df0000"/><rect x="187" y="592" width="30" height="6" fill="#cf0000"/><rect x="217" y="592" width="110" height="6" fill="#bf0000"/><rect x="327" y="592" width="5" height="6" fill="#cf0000"/><rect x="332" y="592" width="25" height="6" fill="#df0000"/><rect x="357" y="592" width="39" height="6" fill="#ff0000"/><rect x="396" y="592" width="11" height="6" fill="#ff2000"/><rect x="407" y="592" width="15" height="6" fill="#ff4000"/><rect x="422" y="592" width="10" height="6" fill="#ff8000"/><rect x="432" y="592" width="5" height="6" fill="#ff8f00"/><rect x="437" y="592" width="10" height="6" fill="#ffaf00"/><rect x="447" y="592" width="5" height="6" fill="#ffbf00"/><rect x="452" y="592" width="10" height="6" fill="#ffcf00"/><rect x="462" y="592" width="10" height="6" fill="#ffef00"/><rect x="472" y="592" width="5" height="6" fill="#ffff00"/><rect x="477" y="592" width="15" height="6" fill="#dfff20"/><rect x="492" y="592" width="10" height="6" fill="#bfff40"/><rect x="502" y="592" width="5" height="6" fill="#9fff60"/><rect x="507" y="592" width="45" height="6" fill="#8fff70"/><rect x="552" y="592" width="5" height="6" fill="#80ff80"/><rect x="557" y="592" width="35" height="6" fill="#60ff9f"/><rect x="592" y="592" width="5" height="6" fill="#50ffaf"/><rect x="597" y="592" width="50" height="6" fill="#30ffcf"/><rect x="647" y="592" width="20" height="6" fill="#20ffdf"/><rect x="667" y="592" width="20" height="6" fill="#10ffef"/><rect x="687" y="592" width="15" height="6" fill="#00ffff"/><rect x="702" y="592" width="5" height="6" fill="#10ffef"/><rect x="707" y="592" width="10" height="6" fill="#20ffdf"/><rect x="717" y="592" width="5" height="6" fill="#30ffcf"/><rect x="722" y="592" width="10" height="6" fill="#40ffbf"/><rect x="732" y="592" width="5" height="6" fill="#50ffaf"/><rect x="737" y="592" width="10" height="6" fill="#60ff9f"/><rect x="747" y="592" width="5" height="6" fill="#70ff8f"/><rect x="752" y="592" width="10" height="6" fill="#80ff80"/><rect x="762" y="592" width="5" height="6" fill="#8fff70"/><rect x="767" y="592" width="10" height="6" fill="#9fff60"/><rect x="777" y="592" width="5" height="6" fill="#afff50"/><rect x="782" y="592" width="10" height="6" fill="#bfff40"/><rect x="792" y="592" width="5" height="6" fill="#cfff30"/><rect x="797" y="592" width="10" height="6" fill="#dfff20"/><rect x="807" y="592" width="5" height="6" fill="#efff10"/><rect x="812" y="592" width="10" height="6" fill="#ffff00"/><rect x="822" y="592" width="10" height="6" fill="#ffef00"/><rect x="832" y="592" width="15" height="6" fill="#ffdf00"/><rect x="847" y="592" width="20" height="6" fill="#ffcf00"/><rect x="867" y="592" width="9" height="6" fill="#ffbf00"/><rect x="876" y="592" width="11" height="6" fill="#ffcf00"/><rect x="887" y="592" width="75" height="6" fill="#ffbf00"/><rect x="962" y="592" width="40" height="6" fill="#ffaf00"/><rect x="1002" y="592" width="30" height="6" fill="#ff9f00"/><rect x="1032" y="592" width="30" height="6" fill="#ff8f00"/><rect x="1062" y="592" width="24" height="6" fill="#ff8000"/><rect x="157" y="598" width="5" height="6" fill="#ef0000"/><rect x="162" y="598" width="15" height="6" fill="#df0000"/><rect x="177" y="598" width="25" height="6" fill="#cf0000"/><rect x="202" y="598" width="125" height="6" fill="#bf0000"/><rect x="327" y="598" width="5" height="6" fill="#cf0000"/><rect x="332" y="598" width="25" height="6" fill="#df0000"/><rect x="357" y="598" width="39" height="6" fill="#ff0000"/><rect x="396" y="598" width="11" height="6" fill="#ff3000"/><rect x="407" y="598" width="15" height="6" fill="#ff5000"/><rect x="422" y="598" width="10" height="6" fill="#ff8000"/><rect x="432" y="598" width="5" height="6" fill="#ff8f00"/><rect x="437" y="598" width="10" height="6" fill="#ffaf00"/><rect x="447" y="598" width="5" height="6" fill="#ffbf00"/><rect x="452" y="598" width="5" height="6" fill="#ffcf00"/><rect x="457" y="598" width="5" height="6" fill="#ffdf00"/><rect x="462" y="598" width="15" height="6" fill="#ffff00"/><rect x="477" y="598" width="15" height="6" fill="#dfff20"/><rect x="492" y="598" width="10" height="6" fill="#bfff40"/><rect x="502" y="598" width="5" height="6" fill="#9fff60"/><rect x="507" y="598" width="45" height="6" fill="#8fff70"/><rect x="552" y="598" width="5" height="6" fill="#80ff80"/><rect x="557" y="598" width="35" height="6" fill="#60ff9f"/><rect x="592" y="598" width="5" height="6" fill="#50ffaf"/><rect x="597" y="598" width="50" height="6" fill="#30ffcf"/><rect x="647" y="598" width="20" height="6" fill="#20ffdf"/><rect x="667" y="598" width="20" height="6" fill="#10ffef"/><rect x="687" y="598" width="10" height="6" fill="#00ffff"/><rect x="697" y="598" width="10" height="6" fill="#10ffef"/><rect x="707" y="598" width="5" height="6" fill="#20ffdf"/><rect x="712" y="598" width="5" height="6" fill="#30ffcf"/><rect x="717" y="598" width="5" height="6" fill="#40ffbf"/><rect x="722" y="598" width="10" height="6" fill="#50ffaf"/><rect x="732" y="598" width="5" height="6" fill="#60ff9f"/><rect x="737" y="598" width="10" height="6" fill="#70ff8f"/><rect x="747" y="598" width="5" height="6" fill="#80ff80"/><rect x="752" y="598" width="5" height="6" fill="#8fff70"/><rect x="757" y="598" width="10" height="6" fill="#9fff60"/><rect x="767" y="598" width="5" height="6" fill="#afff50"/><rect x="772" y="598" width="5" height="6" fill="#bfff40"/><rect x="777" y="598" width="5" height="6" fill="#cfff30"/><rect x="782" y="598" width="10" height="6" fill="#dfff20"/><rect x="792" y="598" width="10" height="6" fill="#efff10"/><rect x="802" y="598" width="10" height="6" fill="#ffff00"/><rect x="812" y="598" width="15" height="6" fill="#ffef00"/><rect x="827" y="598" width="20" height="6" fill="#ffdf00"/><rect x="847" y="598" width="20" height="6" fill="#ffcf00"/><rect x="867" y="598" width="9" height="6" fill="#ffbf00"/><rect x="876" y="598" width="11" height="6" fill="#ffcf00"/><rect x="887" y="598" width="40" height="6" fill="#ffbf00"/><rect x="927" y="598" width="30" height="6" fill="#ffaf00"/><rect x="957" y="598" width="35" height="6" fill="#ff9f00"/><rect x="992" y="598" width="40" height="6" fill="#ff8f00"/><rect x="1032" y="598" width="35" height="6" fill="#ff8000"/><rect x="1067" y="598" width="19" height="6" fill="#ff7000"/><rect x="157" y="604" width="10" height="5" fill="#df0000"/><rect x="167" y="604" width="20" height="5" fill="#cf0000"/><rect x="187" y="604" width="140" height="5" fill="#bf0000"/><rect x="327" y="604" width="5" height="5" fill="#cf0000"/><rect x="332" y="604" width="25" height="5" fill="#df0000"/><rect x="357" y="604" width="39" height="5" fill="#ff0000"/><rect x="396" y="604" width="11" height="5" fill="#ff3000"/><rect x="407" y="604" width="15" height="5" fill="#ff5000"/><rect x="422" y="604" width="15" height="5" fill="#ff8000"/><rect x="437" y="604" width="10" height="5" fill="#ff9f00"/><rect x="447" y="604" width="5" height="5" fill="#ffaf00"/><rect x="452" y="604" width="5" height="5" fill="#ffcf00"/><rect x="457" y="604" width="5" height="5" fill="#ffdf00"/><rect x="462" y="604" width="10" height="5" fill="#ffff00"/><rect x="472" y="604" width="5" height="5" fill="#efff10"/><rect x="477" y="604" width="20" height="5" fill="#cfff30"/><rect x="497" y="604" width="5" height="5" fill="#afff50"/><rect x="502" y="604" width="55" height="5" fill="#8fff70"/><rect x="557" y="604" width="35" height="5" fill="#70ff8f"/><rect x="592" y="604" width="5" height="5" fill="#60ff9f"/><rect x="597" y="604" width="50" height="5" fill="#40ffbf"/><rect x="647" y="604" width="20" height="5" fill="#30ffcf"/><rect x="667" y="604" width="20" height="5" fill="#20ffdf"/><rect x="687" y="604" width="10" height="5" fill="#10ffef"/><rect x="697" y="604" width="10" height="5" fill="#20ffdf"/><rect x="707" y="604" width="5" height="5" fill="#30ffcf"/><rect x="712" y="604" width="5" height="5" fill="#40ffbf"/><rect x="717" y="604" width="5" height="5" fill="#50ffaf"/><rect x="722" y="604" width="10" height="5" fill="#60ff9f"/><rect x="732" y="604" width="5" height="5" fill="#70ff8f"/><rect x="737" y="604" width="10" height="5" fill="#80ff80"/><rect x="747" y="604" width="5" height="5" fill="#8fff70"/><rect x="752" y="604" width="5" height="5" fill="#9fff60"/><rect x="757" y="604" width="10" height="5" fill="#afff50"/><rect x="767" y="604" width="5" height="5" fill="#bfff40"/><rect x="772" y="604" width="5" height="5" fill="#cfff30"/><rect x="777" y="604" width="5" height="5" fill="#dfff20"/><rect x="782" y="604" width="10" height="5" fill="#efff10"/><rect x="792" y="604" width="10" height="5" fill="#ffff00"/><rect x="802" y="604" width="10" height="5" fill="#ffef00"/><rect x="812" y="604" width="15" height="5" fill="#ffdf00"/><rect x="827" y="604" width="30" height="5" fill="#ffcf00"/><rect x="857" y="604" width="19" height="5" fill="#ffbf00"/><rect x="876" y="604" width="46" height="5" fill="#ffaf00"/><rect x="922" y="604" width="25" height="5" fill="#ff9f00"/><rect x="947" y="604" width="25" height="5" fill="#ff8f00"/><rect x="972" y="604" width="35" height="5" fill="#ff8000"/><rect x="1007" y="604" width="40" height="5" fill="#ff7000"/><rect x="1047" y="604" width="39" height="5" fill="#ff6000"/><rect x="157" y="609" width="10" height="6" fill="#df0000"/><rect x="167" y="609" width="20" height="6" fill="#cf0000"/><rect x="187" y="609" width="65" height="6" fill="#bf0000"/><rect x="252" y="609" width="55" height="6" fill="#cf0000"/><rect x="307" y="609" width="5" height="6" fill="#df0000"/><rect x="312" y="609" width="30" height="6" fill="#ef0000"/><rect x="342" y="609" width="35" height="6" fill="#ff0000"/><rect x="377" y="609" width="19" height="6" fill="#ff1000"/><rect x="396" y="609" width="11" height="6" fill="#ff3000"/><rect x="407" y="609" width="15" height="6" fill="#ff5000"/><rect x="422" y="609" width="15" height="6" fill="#ff8000"/><rect x="437" y="609" width="10" height="6" fill="#ff9f00"/><rect x="447" y="609" width="5" height="6" fill="#ffaf00"/><rect x="452" y="609" width="5" height="6" fill="#ffcf00"/><rect x="457" y="609" width="5" height="6" fill="#ffdf00"/><rect x="462" y="609" width="15" height="6" fill="#ffff00"/><rect x="477" y="609" width="20" height="6" fill="#dfff20"/><rect x="497" y="609" width="5" height="6" fill="#bfff40"/><rect x="502" y="609" width="50" height="6" fill="#9fff60"/><rect x="552" y="609" width="5" height="6" fill="#8fff70"/><rect x="557" y="609" width="40" height="6" fill="#70ff8f"/><rect x="597" y="609" width="50" height="6" fill="#50ffaf"/><rect x="647" y="609" width="20" height="6" fill="#40ffbf"/><rect x="667" y="609" width="20" height="6" fill="#30ffcf"/><rect x="687" y="609" width="10" height="6" fill="#20ffdf"/><rect x="697" y="609" width="10" height="6" fill="#30ffcf"/><rect x="707" y="609" width="5" height="6" fill="#40ffbf"/><rect x="712" y="609" width="5" height="6" fill="#50ffaf"/><rect x="717" y="609" width="5" height="6" fill="#60ff9f"/><rect x="722" y="609" width="10" height="6" fill="#70ff8f"/><rect x="732" y="609" width="5" height="6" fill="#80ff80"/><rect x="737" y="609" width="10" height="6" fill="#8fff70"/><rect x="747" y="609" width="5" height="6" fill="#9fff60"/><rect x="752" y="609" width="5" height="6" fill="#afff50"/><rect x="757" y="609" width="10" height="6" fill="#bfff40"/><rect x="767" y="609" width="5" height="6" fill="#cfff30"/><rect x="772" y="609" width="5" height="6" fill="#dfff20"/><rect x="777" y="609" width="5" height="6" fill="#efff10"/><rect x="782" y="609" width="10" height="6" fill="#ffff00"/><rect x="792" y="609" width="5" height="6" fill="#ffef00"/><rect x="797" y="609" width="10" height="6" fill="#ffdf00"/><rect x="807" y="609" width="5" height="6" fill="#ffcf00"/><rect x="812" y="609" width="10" height="6" fill="#ffbf00"/><rect x="822" y="609" width="10" height="6" fill="#ffaf00"/><rect x="832" y="609" width="15" height="6" fill="#ff9f00"/><rect x="847" y="609" width="20" height="6" fill="#ff8f00"/><rect x="867" y="609" width="9" height="6" fill="#ff8000"/><rect x="876" y="609" width="11" height="6" fill="#ff7000"/><rect x="887" y="609" width="5" height="6" fill="#ff6000"/><rect x="892" y="609" width="35" height="6" fill="#ff5000"/><rect x="927" y="609" width="30" height="6" fill="#ff4000"/><rect x="957" y="609" width="5" height="6" fill="#ff3000"/><rect x="962" y="609" width="35" height="6" fill="#ff2000"/><rect x="997" y="609" width="35" height="6" fill="#ff1000"/><rect x="1032" y="609" width="54" height="6" fill="#ff0000"/><rect x="157" y="615" width="5" height="5" fill="#df0000"/><rect x="162" y="615" width="35" height="5" fill="#cf0000"/><rect x="197" y="615" width="30" height="5" fill="#bf0000"/><rect x="227" y="615" width="80" height="5" fill="#cf0000"/><rect x="307" y="615" width="5" height="5" fill="#df0000"/><rect x="312" y="615" width="30" height="5" fill="#ef0000"/><rect x="342" y="615" width="35" height="5" fill="#ff0000"/><rect x="377" y="615" width="19" height="5" fill="#ff1000"/><rect x="396" y="615" width="6" height="5" fill="#ff3000"/><rect x="402" y="615" width="20" height="5" fill="#ff5000"/><rect x="422" y="615" width="15" height="5" fill="#ff6000"/><rect x="437" y="615" width="10" height="5" fill="#ff8000"/><rect x="447" y="615" width="5" height="5" fill="#ff8f00"/><rect x="452" y="615" width="5" height="5" fill="#ff9f00"/><rect x="457" y="615" width="5" height="5" fill="#ffaf00"/><rect x="462" y="615" width="10" height="5" fill="#ffcf00"/><rect x="472" y="615" width="5" height="5" fill="#ffdf00"/><rect x="477" y="615" width="20" height="5" fill="#ffff00"/><rect x="497" y="615" width="5" height="5" fill="#dfff20"/><rect x="502" y="615" width="35" height="5" fill="#bfff40"/><rect x="537" y="615" width="40" height="5" fill="#9fff60"/><rect x="577" y="615" width="30" height="5" fill="#80ff80"/><rect x="607" y="615" width="45" height="5" fill="#60ff9f"/><rect x="652" y="615" width="30" height="5" fill="#50ffaf"/><rect x="682" y="615" width="20" height="5" fill="#40ffbf"/><rect x="702" y="615" width="5" height="5" fill="#50ffaf"/><rect x="707" y="615" width="10" height="5" fill="#60ff9f"/><rect x="717" y="615" width="5" height="5" fill="#70ff8f"/><rect x="722" y="615" width="5" height="5" fill="#80ff80"/><rect x="727" y="615" width="10" height="5" fill="#8fff70"/><rect x="737" y="615" width="5" height="5" fill="#9fff60"/><rect x="742" y="615" width="5" height="5" fill="#afff50"/><rect x="747" y="615" width="5" height="5" fill="#bfff40"/><rect x="752" y="615" width="10" height="5" fill="#cfff30"/><rect x="762" y="615" width="10" height="5" fill="#dfff20"/><rect x="772" y="615" width="10" height="5" fill="#efff10"/><rect x="782" y="615" width="5" height="5" fill="#ffff00"/><rect x="787" y="615" width="5" height="5" fill="#ffef00"/><rect x="792" y="615" width="5" height="5" fill="#ffdf00"/><rect x="797" y="615" width="5" height="5" fill="#ffcf00"/><rect x="802" y="615" width="5" height="5" fill="#ffbf00"/><rect x="807" y="615" width="5" height="5" fill="#ffaf00"/><rect x="812" y="615" width="10" height="5" fill="#ff9f00"/><rect x="822" y="615" width="10" height="5" fill="#ff8f00"/><rect x="832" y="615" width="5" height="5" fill="#ff8000"/><rect x="837" y="615" width="5" height="5" fill="#ff7000"/><rect x="842" y="615" width="5" height="5" fill="#ff6000"/><rect x="847" y="615" width="5" height="5" fill="#ff5000"/><rect x="852" y="615" width="5" height="5" fill="#ff4000"/><rect x="857" y="615" width="5" height="5" fill="#ff3000"/><rect x="862" y="615" width="5" height="5" fill="#ff2000"/><rect x="867" y="615" width="5" height="5" fill="#ff1000"/><rect x="872" y="615" width="4" height="5" fill="#ff0000"/><rect x="876" y="615" width="11" height="5" fill="#ff1000"/><rect x="887" y="615" width="45" height="5" fill="#ff0000"/><rect x="932" y="615" width="25" height="5" fill="#ef0000"/><rect x="957" y="615" width="75" height="5" fill="#df0000"/><rect x="1032" y="615" width="54" height="5" fill="#cf0000"/><rect x="157" y="620" width="5" height="6" fill="#df0000"/><rect x="162" y="620" width="55" height="6" fill="#cf0000"/><rect x="217" y="620" width="40" height="6" fill="#df0000"/><rect x="257" y="620" width="85" height="6" fill="#ef0000"/><rect x="342" y="620" width="35" height="6" fill="#ff0000"/><rect x="377" y="620" width="19" height="6" fill="#ff1000"/><rect x="396" y="620" width="6" height="6" fill="#ff3000"/><rect x="402" y="620" width="20" height="6" fill="#ff4000"/><rect x="422" y="620" width="15" height="6" fill="#ff5000"/><rect x="437" y="620" width="10" height="6" fill="#ff6000"/><rect x="447" y="620" width="5" height="6" fill="#ff7000"/><rect x="452" y="620" width="10" height="6" fill="#ff8f00"/><rect x="462" y="620" width="15" height="6" fill="#ffaf00"/><rect x="477" y="620" width="20" height="6" fill="#ffcf00"/><rect x="497" y="620" width="5" height="6" fill="#ffdf00"/><rect x="502" y="620" width="35" height="6" fill="#ffff00"/><rect x="537" y="620" width="40" height="6" fill="#efff10"/><rect x="577" y="620" width="30" height="6" fill="#cfff30"/><rect x="607" y="620" width="40" height="6" fill="#afff50"/><rect x="647" y="620" width="20" height="6" fill="#9fff60"/><rect x="667" y="620" width="20" height="6" fill="#8fff70"/><rect x="687" y="620" width="10" height="6" fill="#80ff80"/><rect x="697" y="620" width="10" height="6" fill="#8fff70"/><rect x="707" y="620" width="5" height="6" fill="#9fff60"/><rect x="712" y="620" width="5" height="6" fill="#afff50"/><rect x="717" y="620" width="5" height="6" fill="#bfff40"/><rect x="722" y="620" width="10" height="6" fill="#cfff30"/><rect x="732" y="620" width="10" height="6" fill="#dfff20"/><rect x="742" y="620" width="10" height="6" fill="#efff10"/><rect x="752" y="620" width="5" height="6" fill="#ffff00"/><rect x="757" y="620" width="10" height="6" fill="#ffef00"/><rect x="767" y="620" width="5" height="6" fill="#ffdf00"/><rect x="772" y="620" width="5" height="6" fill="#ffcf00"/><rect x="777" y="620" width="5" height="6" fill="#ffbf00"/><rect x="782" y="620" width="10" height="6" fill="#ffaf00"/><rect x="792" y="620" width="10" height="6" fill="#ff9f00"/><rect x="802" y="620" width="10" height="6" fill="#ff8f00"/><rect x="812" y="620" width="5" height="6" fill="#ff8000"/><rect x="817" y="620" width="10" height="6" fill="#ff7000"/><rect x="827" y="620" width="5" height="6" fill="#ff6000"/><rect x="832" y="620" width="10" height="6" fill="#ff5000"/><rect x="842" y="620" width="5" height="6" fill="#ff4000"/><rect x="847" y="620" width="10" height="6" fill="#ff3000"/><rect x="857" y="620" width="5" height="6" fill="#ff2000"/><rect x="862" y="620" width="5" height="6" fill="#ff1000"/><rect x="867" y="620" width="5" height="6" fill="#ff0000"/><rect x="872" y="620" width="4" height="6" fill="#ef0000"/><rect x="876" y="620" width="6" height="6" fill="#ff0000"/><rect x="882" y="620" width="5" height="6" fill="#ef0000"/><rect x="887" y="620" width="25" height="6" fill="#df0000"/><rect x="912" y="620" width="45" height="6" fill="#cf0000"/><rect x="957" y="620" width="60" height="6" fill="#bf0000"/><rect x="1017" y="620" width="35" height="6" fill="#af0000"/><rect x="1052" y="620" width="34" height="6" fill="#9f0000"/><rect x="157" y="626" width="5" height="5" fill="#df0000"/><rect x="162" y="626" width="55" height="5" fill="#cf0000"/><rect x="217" y="626" width="20" height="5" fill="#df0000"/><rect x="237" y="626" width="20" height="5" fill="#ef0000"/><rect x="257" y="626" width="40" height="5" fill="#ff0000"/><rect x="297" y="626" width="110" height="5" fill="#ff1000"/><rect x="407" y="626" width="15" height="5" fill="#ff3000"/><rect x="422" y="626" width="25" height="5" fill="#ff5000"/><rect x="447" y="626" width="5" height="5" fill="#ff6000"/><rect x="452" y="626" width="25" height="5" fill="#ff7000"/><rect x="477" y="626" width="40" height="5" fill="#ff8000"/><rect x="517" y="626" width="40" height="5" fill="#ff8f00"/><rect x="557" y="626" width="40" height="5" fill="#ffaf00"/><rect x="597" y="626" width="45" height="5" fill="#ffcf00"/><rect x="642" y="626" width="15" height="5" fill="#ffdf00"/><rect x="657" y="626" width="15" height="5" fill="#ffef00"/><rect x="672" y="626" width="15" height="5" fill="#ffff00"/><rect x="687" y="626" width="20" height="5" fill="#efff10"/><rect x="707" y="626" width="15" height="5" fill="#ffff00"/><rect x="722" y="626" width="10" height="5" fill="#ffef00"/><rect x="732" y="626" width="10" height="5" fill="#ffdf00"/><rect x="742" y="626" width="10" height="5" fill="#ffcf00"/><rect x="752" y="626" width="5" height="5" fill="#ffbf00"/><rect x="757" y="626" width="10" height="5" fill="#ffaf00"/><rect x="767" y="626" width="5" height="5" fill="#ff9f00"/><rect x="772" y="626" width="10" height="5" fill="#ff8f00"/><rect x="782" y="626" width="10" height="5" fill="#ff8000"/><rect x="792" y="626" width="10" height="5" fill="#ff7000"/><rect x="802" y="626" width="10" height="5" fill="#ff6000"/><rect x="812" y="626" width="5" height="5" fill="#ff5000"/><rect x="817" y="626" width="10" height="5" fill="#ff4000"/><rect x="827" y="626" width="5" height="5" fill="#ff3000"/><rect x="832" y="626" width="10" height="5" fill="#ff2000"/><rect x="842" y="626" width="5" height="5" fill="#ff1000"/><rect x="847" y="626" width="10" height="5" fill="#ff0000"/><rect x="857" y="626" width="5" height="5" fill="#ef0000"/><rect x="862" y="626" width="10" height="5" fill="#df0000"/><rect x="872" y="626" width="4" height="5" fill="#cf0000"/><rect x="876" y="626" width="11" height="5" fill="#df0000"/><rect x="887" y="626" width="25" height="5" fill="#cf0000"/><rect x="912" y="626" width="5" height="5" fill="#bf0000"/><rect x="917" y="626" width="60" height="5" fill="#af0000"/><rect x="977" y="626" width="50" height="5" fill="#9f0000"/><rect x="1027" y="626" width="25" height="5" fill="#8f0000"/><rect x="1052" y="626" width="34" height="5" fill="#9f0000"/><rect x="157" y="631" width="15" height="5" fill="#af0000"/><rect x="172" y="631" width="30" height="5" fill="#bf0000"/><rect x="202" y="631" width="25" height="5" fill="#cf0000"/><rect x="227" y="631" width="10" height="5" fill="#df0000"/><rect x="237" y="631" width="25" height="5" fill="#ef0000"/><rect x="262" y="631" width="35" height="5" fill="#ff0000"/><rect x="297" y="631" width="140" height="5" fill="#ff1000"/><rect x="437" y="631" width="40" height="5" fill="#ff2000"/><rect x="477" y="631" width="175" height="5" fill="#ff3000"/><rect x="652" y="631" width="30" height="5" fill="#ff4000"/><rect x="682" y="631" width="25" height="5" fill="#ff5000"/><rect x="707" y="631" width="20" height="5" fill="#ff4000"/><rect x="727" y="631" width="20" height="5" fill="#ff3000"/><rect x="747" y="631" width="20" height="5" fill="#ff2000"/><rect x="767" y="631" width="25" height="5" fill="#ff1000"/><rect x="792" y="631" width="20" height="5" fill="#ff0000"/><rect x="812" y="631" width="15" height="5" fill="#ef0000"/><rect x="827" y="631" width="30" height="5" fill="#df0000"/><rect x="857" y="631" width="25" height="5" fill="#cf0000"/><rect x="882" y="631" width="5" height="5" fill="#bf0000"/><rect x="887" y="631" width="35" height="5" fill="#af0000"/><rect x="922" y="631" width="140" height="5" fill="#9f0000"/><rect x="1062" y="631" width="24" height="5" fill="#bf0000"/><rect x="157" y="636" width="30" height="5" fill="#af0000"/><rect x="187" y="636" width="15" height="5" fill="#bf0000"/><rect x="202" y="636" width="30" height="5" fill="#cf0000"/><rect x="232" y="636" width="15" height="5" fill="#df0000"/><rect x="247" y="636" width="15" height="5" fill="#ef0000"/><rect x="262" y="636" width="35" height="5" fill="#ff0000"/><rect x="297" y="636" width="99" height="5" fill="#ff1000"/><rect x="396" y="636" width="61" height="5" fill="#ff0000"/><rect x="457" y="636" width="80" height="5" fill="#ef0000"/><rect x="537" y="636" width="40" height="5" fill="#df0000"/><rect x="577" y="636" width="130" height="5" fill="#ef0000"/><rect x="707" y="636" width="25" height="5" fill="#df0000"/><rect x="732" y="636" width="45" height="5" fill="#cf0000"/><rect x="777" y="636" width="40" height="5" fill="#bf0000"/><rect x="817" y="636" width="25" height="5" fill="#af0000"/><rect x="842" y="636" width="34" height="5" fill="#9f0000"/><rect x="876" y="636" width="16" height="5" fill="#af0000"/><rect x="892" y="636" width="65" height="5" fill="#8f0000"/><rect x="957" y="636" width="30" height="5" fill="#9f0000"/><rect x="987" y="636" width="35" height="5" fill="#af0000"/><rect x="1022" y="636" width="5" height="5" fill="#bf0000"/><rect x="1027" y="636" width="35" height="5" fill="#cf0000"/><rect x="1062" y="636" width="24" height="5" fill="#ef0000"/><rect x="157" y="641" width="30" height="5" fill="#af0000"/><rect x="187" y="641" width="30" height="5" fill="#bf0000"/><rect x="217" y="641" width="40" height="5" fill="#df0000"/><rect x="257" y="641" width="40" height="5" fill="#ef0000"/><rect x="297" y="641" width="99" height="5" fill="#ff0000"/><rect x="396" y="641" width="61" height="5" fill="#ef0000"/><rect x="457" y="641" width="40" height="5" fill="#df0000"/><rect x="497" y="641" width="40" height="5" fill="#bf0000"/><rect x="537" y="641" width="40" height="5" fill="#af0000"/><rect x="577" y="641" width="59" height="5" fill="#bf0000"/><rect x="636" y="641" width="31" height="5" fill="#af0000"/><rect x="667" y="641" width="90" height="5" fill="#bf0000"/><rect x="757" y="641" width="90" height="5" fill="#af0000"/><rect x="847" y="641" width="29" height="5" fill="#9f0000"/><rect x="876" y="641" width="51" height="5" fill="#af0000"/><rect x="927" y="641" width="30" height="5" fill="#9f0000"/><rect x="957" y="641" width="55" height="5" fill="#af0000"/><rect x="1012" y="641" width="5" height="5" fill="#bf0000"/><rect x="1017" y="641" width="35" height="5" fill="#cf0000"/><rect x="1052" y="641" width="34" height="5" fill="#ef0000"/><rect x="706" y="646" width="194" height="5" fill="#af0000"/><rect x="900" y="646" width="100" height="5" fill="#cf0000"/><rect x="1000" y="646" width="86" height="5" fill="#ef0000"/></g><path d="M157,228.2 L194,228.5 L198,227.3 L221,227.3 L224,225 L238,224.5 L241,223.4 L246,224.5 L261,225.2 L268,223.4 L288,223.2 L290,222.3 L333,222.3 L336,221.3 L343,221.3 L346,222.8 L360,222.8 L362,221.5 L393,221.5 L395,222 L406,222 L408,221.2 L429,221.2 L431,220.5 L456,220.2 L458,219.1 L486,219.1 L488,218.2 L540,218.2 L542,218.7 L608,218.7 L610,217.8 L630,217.8 L648,218 L650,216.9 L849,217 L852,216 L856,215 L984,215 L990,215.6 L997,215.3 L1015,214.9 L1017,214 L1086,214" fill="none" stroke="#000" stroke-width="4.4" stroke-linejoin="round" shape-rendering="crispEdges"/><path d="M155.4,643.0L158.0,640.5L160.6,643.0L158.0,645.5ZM158.9,643.0L161.5,640.5L164.1,643.0L161.5,645.5ZM162.4,643.0L165.0,640.5L167.6,643.0L165.0,645.5ZM165.9,643.0L168.5,640.5L171.1,643.0L168.5,645.5ZM169.4,643.0L172.0,640.5L174.6,643.0L172.0,645.5ZM172.9,643.0L175.5,640.5L178.1,643.0L175.5,645.5ZM176.4,643.0L179.0,640.5L181.6,643.0L179.0,645.5ZM179.9,643.0L182.5,640.5L185.1,643.0L182.5,645.5ZM183.4,643.0L186.0,640.5L188.6,643.0L186.0,645.5ZM186.9,643.0L189.5,640.5L192.1,643.0L189.5,645.5ZM190.4,643.0L193.0,640.5L195.6,643.0L193.0,645.5ZM193.9,643.0L196.5,640.5L199.1,643.0L196.5,645.5ZM200.9,643.0L203.5,640.5L206.1,643.0L203.5,645.5ZM204.4,643.0L207.0,640.5L209.6,643.0L207.0,645.5ZM207.9,643.0L210.5,640.5L213.1,643.0L210.5,645.5ZM211.4,643.0L214.0,640.5L216.6,643.0L214.0,645.5ZM214.9,643.0L217.5,640.5L220.1,643.0L217.5,645.5ZM221.9,643.0L224.5,640.5L227.1,643.0L224.5,645.5ZM225.4,643.0L228.0,640.5L230.6,643.0L228.0,645.5ZM228.9,643.0L231.5,640.5L234.1,643.0L231.5,645.5ZM232.4,643.0L235.0,640.5L237.6,643.0L235.0,645.5ZM235.9,643.0L238.5,640.5L241.1,643.0L238.5,645.5ZM239.4,643.0L242.0,640.5L244.6,643.0L242.0,645.5ZM242.9,643.0L245.5,640.5L248.1,643.0L245.5,645.5ZM246.4,643.0L249.0,640.5L251.6,643.0L249.0,645.5ZM249.9,643.0L252.5,640.5L255.1,643.0L252.5,645.5ZM253.4,643.0L256.0,640.5L258.6,643.0L256.0,645.5ZM256.9,643.0L259.5,640.5L262.1,643.0L259.5,645.5ZM260.4,643.0L263.0,640.5L265.6,643.0L263.0,645.5ZM263.9,643.0L266.5,640.5L269.1,643.0L266.5,645.5ZM267.4,643.0L270.0,640.5L272.6,643.0L270.0,645.5ZM270.9,643.0L273.5,640.5L276.1,643.0L273.5,645.5ZM274.4,643.0L277.0,640.5L279.6,643.0L277.0,645.5ZM277.9,643.0L280.5,640.5L283.1,643.0L280.5,645.5ZM284.9,643.0L287.5,640.5L290.1,643.0L287.5,645.5ZM288.4,643.0L291.0,640.5L293.6,643.0L291.0,645.5ZM291.9,643.0L294.5,640.5L297.1,643.0L294.5,645.5ZM295.4,643.0L298.0,640.5L300.6,643.0L298.0,645.5ZM298.9,643.0L301.5,640.5L304.1,643.0L301.5,645.5ZM305.9,643.0L308.5,640.5L311.1,643.0L308.5,645.5ZM309.4,644.5L312.0,642.0L314.6,644.5L312.0,647.0ZM312.9,644.5L315.5,642.0L318.1,644.5L315.5,647.0ZM316.4,644.5L319.0,642.0L321.6,644.5L319.0,647.0ZM319.9,644.5L322.5,642.0L325.1,644.5L322.5,647.0ZM323.4,644.5L326.0,642.0L328.6,644.5L326.0,647.0ZM326.9,644.5L329.5,642.0L332.1,644.5L329.5,647.0ZM330.4,644.5L333.0,642.0L335.6,644.5L333.0,647.0ZM333.9,644.5L336.5,642.0L339.1,644.5L336.5,647.0ZM337.4,644.5L340.0,642.0L342.6,644.5L340.0,647.0ZM344.4,644.5L347.0,642.0L349.6,644.5L347.0,647.0ZM347.9,644.5L350.5,642.0L353.1,644.5L350.5,647.0ZM354.9,644.5L357.5,642.0L360.1,644.5L357.5,647.0ZM358.4,644.5L361.0,642.0L363.6,644.5L361.0,647.0ZM361.9,644.5L364.5,642.0L367.1,644.5L364.5,647.0ZM365.4,644.5L368.0,642.0L370.6,644.5L368.0,647.0ZM368.9,644.5L371.5,642.0L374.1,644.5L371.5,647.0ZM372.4,644.5L375.0,642.0L377.6,644.5L375.0,647.0ZM375.9,644.5L378.5,642.0L381.1,644.5L378.5,647.0ZM386.4,644.5L389.0,642.0L391.6,644.5L389.0,647.0ZM389.9,644.5L392.5,642.0L395.1,644.5L392.5,647.0ZM393.4,645.5L396.0,643.0L398.6,645.5L396.0,648.0ZM396.9,645.5L399.5,643.0L402.1,645.5L399.5,648.0ZM400.4,645.5L403.0,643.0L405.6,645.5L403.0,648.0ZM403.9,645.5L406.5,643.0L409.1,645.5L406.5,648.0ZM407.4,645.5L410.0,643.0L412.6,645.5L410.0,648.0ZM417.9,645.5L420.5,643.0L423.1,645.5L420.5,648.0ZM421.4,645.5L424.0,643.0L426.6,645.5L424.0,648.0ZM431.9,645.5L434.5,643.0L437.1,645.5L434.5,648.0ZM435.4,645.5L438.0,643.0L440.6,645.5L438.0,648.0ZM438.9,645.5L441.5,643.0L444.1,645.5L441.5,648.0ZM449.4,645.5L452.0,643.0L454.6,645.5L452.0,648.0ZM452.9,645.5L455.5,643.0L458.1,645.5L455.5,648.0ZM456.4,645.5L459.0,643.0L461.6,645.5L459.0,648.0ZM459.9,645.5L462.5,643.0L465.1,645.5L462.5,648.0ZM463.4,645.5L466.0,643.0L468.6,645.5L466.0,648.0ZM466.9,645.5L469.5,643.0L472.1,645.5L469.5,648.0ZM470.4,645.5L473.0,643.0L475.6,645.5L473.0,648.0ZM473.9,645.5L476.5,643.0L479.1,645.5L476.5,648.0ZM477.4,645.5L480.0,643.0L482.6,645.5L480.0,648.0ZM480.9,645.5L483.5,643.0L486.1,645.5L483.5,648.0ZM484.4,645.5L487.0,643.0L489.6,645.5L487.0,648.0ZM487.9,645.5L490.5,643.0L493.1,645.5L490.5,648.0ZM491.4,645.5L494.0,643.0L496.6,645.5L494.0,648.0ZM494.9,645.5L497.5,643.0L500.1,645.5L497.5,648.0ZM505.4,645.5L508.0,643.0L510.6,645.5L508.0,648.0ZM508.9,645.5L511.5,643.0L514.1,645.5L511.5,648.0ZM512.4,645.5L515.0,643.0L517.6,645.5L515.0,648.0ZM519.4,645.5L522.0,643.0L524.6,645.5L522.0,648.0ZM522.9,645.5L525.5,643.0L528.1,645.5L525.5,648.0ZM526.4,645.5L529.0,643.0L531.6,645.5L529.0,648.0ZM529.9,645.5L532.5,643.0L535.1,645.5L532.5,648.0ZM533.4,645.5L536.0,643.0L538.6,645.5L536.0,648.0ZM536.9,645.5L539.5,643.0L542.1,645.5L539.5,648.0ZM540.4,645.5L543.0,643.0L545.6,645.5L543.0,648.0ZM543.9,645.5L546.5,643.0L549.1,645.5L546.5,648.0ZM547.4,645.5L550.0,643.0L552.6,645.5L550.0,648.0ZM550.9,645.5L553.5,643.0L556.1,645.5L553.5,648.0ZM554.4,645.5L557.0,643.0L559.6,645.5L557.0,648.0ZM557.9,645.5L560.5,643.0L563.1,645.5L560.5,648.0ZM561.4,645.5L564.0,643.0L566.6,645.5L564.0,648.0ZM564.9,645.5L567.5,643.0L570.1,645.5L567.5,648.0ZM568.4,645.5L571.0,643.0L573.6,645.5L571.0,648.0ZM571.9,645.5L574.5,643.0L577.1,645.5L574.5,648.0ZM575.4,645.5L578.0,643.0L580.6,645.5L578.0,648.0ZM578.9,645.5L581.5,643.0L584.1,645.5L581.5,648.0ZM582.4,645.5L585.0,643.0L587.6,645.5L585.0,648.0ZM585.9,645.5L588.5,643.0L591.1,645.5L588.5,648.0ZM589.4,645.5L592.0,643.0L594.6,645.5L592.0,648.0ZM592.9,645.5L595.5,643.0L598.1,645.5L595.5,648.0ZM596.4,645.5L599.0,643.0L601.6,645.5L599.0,648.0ZM599.9,645.5L602.5,643.0L605.1,645.5L602.5,648.0ZM603.4,645.5L606.0,643.0L608.6,645.5L606.0,648.0ZM606.9,645.5L609.5,643.0L612.1,645.5L609.5,648.0ZM610.4,645.5L613.0,643.0L615.6,645.5L613.0,648.0ZM613.9,645.5L616.5,643.0L619.1,645.5L616.5,648.0ZM617.4,645.5L620.0,643.0L622.6,645.5L620.0,648.0ZM620.9,645.5L623.5,643.0L626.1,645.5L623.5,648.0ZM624.4,645.5L627.0,643.0L629.6,645.5L627.0,648.0ZM627.9,645.5L630.5,643.0L633.1,645.5L630.5,648.0ZM631.4,645.5L634.0,643.0L636.6,645.5L634.0,648.0ZM634.9,646.5L637.5,644.0L640.1,646.5L637.5,649.0ZM638.4,646.5L641.0,644.0L643.6,646.5L641.0,649.0ZM641.9,646.5L644.5,644.0L647.1,646.5L644.5,649.0ZM645.4,646.5L648.0,644.0L650.6,646.5L648.0,649.0ZM648.9,646.5L651.5,644.0L654.1,646.5L651.5,649.0ZM652.4,646.5L655.0,644.0L657.6,646.5L655.0,649.0ZM655.9,646.5L658.5,644.0L661.1,646.5L658.5,649.0ZM662.9,647.5L665.5,645.0L668.1,647.5L665.5,650.0ZM666.4,647.5L669.0,645.0L671.6,647.5L669.0,650.0ZM669.9,647.5L672.5,645.0L675.1,647.5L672.5,650.0ZM673.4,647.5L676.0,645.0L678.6,647.5L676.0,650.0ZM676.9,647.5L679.5,645.0L682.1,647.5L679.5,650.0ZM680.4,647.5L683.0,645.0L685.6,647.5L683.0,650.0ZM683.9,647.5L686.5,645.0L689.1,647.5L686.5,650.0ZM687.4,647.5L690.0,645.0L692.6,647.5L690.0,650.0ZM690.9,647.5L693.5,645.0L696.1,647.5L693.5,650.0ZM694.4,647.5L697.0,645.0L699.6,647.5L697.0,650.0ZM697.9,647.5L700.5,645.0L703.1,647.5L700.5,650.0ZM701.4,647.5L704.0,645.0L706.6,647.5L704.0,650.0ZM704.9,647.5L707.5,645.0L710.1,647.5L707.5,650.0ZM708.4,647.5L711.0,645.0L713.6,647.5L711.0,650.0ZM711.9,647.5L714.5,645.0L717.1,647.5L714.5,650.0ZM715.4,647.5L718.0,645.0L720.6,647.5L718.0,650.0ZM718.9,647.5L721.5,645.0L724.1,647.5L721.5,650.0ZM722.4,647.5L725.0,645.0L727.6,647.5L725.0,650.0ZM725.9,647.5L728.5,645.0L731.1,647.5L728.5,650.0ZM729.4,647.5L732.0,645.0L734.6,647.5L732.0,650.0ZM732.9,647.5L735.5,645.0L738.1,647.5L735.5,650.0ZM736.4,647.5L739.0,645.0L741.6,647.5L739.0,650.0ZM739.9,647.5L742.5,645.0L745.1,647.5L742.5,650.0ZM743.4,647.5L746.0,645.0L748.6,647.5L746.0,650.0ZM746.9,647.5L749.5,645.0L752.1,647.5L749.5,650.0ZM750.4,647.5L753.0,645.0L755.6,647.5L753.0,650.0ZM753.9,647.5L756.5,645.0L759.1,647.5L756.5,650.0ZM757.4,647.5L760.0,645.0L762.6,647.5L760.0,650.0ZM760.9,647.5L763.5,645.0L766.1,647.5L763.5,650.0ZM764.4,647.5L767.0,645.0L769.6,647.5L767.0,650.0ZM767.9,647.5L770.5,645.0L773.1,647.5L770.5,650.0ZM771.4,647.5L774.0,645.0L776.6,647.5L774.0,650.0ZM774.9,647.5L777.5,645.0L780.1,647.5L777.5,650.0ZM778.4,647.5L781.0,645.0L783.6,647.5L781.0,650.0ZM781.9,647.5L784.5,645.0L787.1,647.5L784.5,650.0ZM785.4,647.5L788.0,645.0L790.6,647.5L788.0,650.0ZM788.9,647.5L791.5,645.0L794.1,647.5L791.5,650.0ZM792.4,647.5L795.0,645.0L797.6,647.5L795.0,650.0ZM795.9,647.5L798.5,645.0L801.1,647.5L798.5,650.0ZM799.4,647.5L802.0,645.0L804.6,647.5L802.0,650.0ZM802.9,647.5L805.5,645.0L808.1,647.5L805.5,650.0ZM806.4,647.5L809.0,645.0L811.6,647.5L809.0,650.0ZM809.9,647.5L812.5,645.0L815.1,647.5L812.5,650.0ZM813.4,647.5L816.0,645.0L818.6,647.5L816.0,650.0ZM816.9,647.5L819.5,645.0L822.1,647.5L819.5,650.0ZM820.4,647.5L823.0,645.0L825.6,647.5L823.0,650.0ZM823.9,647.5L826.5,645.0L829.1,647.5L826.5,650.0ZM827.4,647.5L830.0,645.0L832.6,647.5L830.0,650.0ZM830.9,647.5L833.5,645.0L836.1,647.5L833.5,650.0ZM834.4,647.5L837.0,645.0L839.6,647.5L837.0,650.0ZM837.9,647.5L840.5,645.0L843.1,647.5L840.5,650.0ZM841.4,647.5L844.0,645.0L846.6,647.5L844.0,650.0ZM844.9,647.5L847.5,645.0L850.1,647.5L847.5,650.0ZM848.4,647.5L851.0,645.0L853.6,647.5L851.0,650.0ZM851.9,647.5L854.5,645.0L857.1,647.5L854.5,650.0ZM855.4,647.5L858.0,645.0L860.6,647.5L858.0,650.0ZM858.9,647.5L861.5,645.0L864.1,647.5L861.5,650.0ZM862.4,647.5L865.0,645.0L867.6,647.5L865.0,650.0ZM865.9,647.5L868.5,645.0L871.1,647.5L868.5,650.0ZM869.4,647.5L872.0,645.0L874.6,647.5L872.0,650.0ZM872.9,647.5L875.5,645.0L878.1,647.5L875.5,650.0ZM876.4,647.5L879.0,645.0L881.6,647.5L879.0,650.0ZM879.9,647.5L882.5,645.0L885.1,647.5L882.5,650.0ZM883.4,647.5L886.0,645.0L888.6,647.5L886.0,650.0ZM886.9,647.5L889.5,645.0L892.1,647.5L889.5,650.0ZM890.4,647.5L893.0,645.0L895.6,647.5L893.0,650.0ZM893.9,647.5L896.5,645.0L899.1,647.5L896.5,650.0ZM897.4,647.5L900.0,645.0L902.6,647.5L900.0,650.0ZM900.9,647.5L903.5,645.0L906.1,647.5L903.5,650.0ZM904.4,647.5L907.0,645.0L909.6,647.5L907.0,650.0ZM907.9,647.5L910.5,645.0L913.1,647.5L910.5,650.0ZM911.4,647.5L914.0,645.0L916.6,647.5L914.0,650.0ZM914.9,647.5L917.5,645.0L920.1,647.5L917.5,650.0ZM918.4,647.5L921.0,645.0L923.6,647.5L921.0,650.0ZM921.9,647.5L924.5,645.0L927.1,647.5L924.5,650.0ZM925.4,647.5L928.0,645.0L930.6,647.5L928.0,650.0ZM928.9,647.5L931.5,645.0L934.1,647.5L931.5,650.0ZM932.4,647.5L935.0,645.0L937.6,647.5L935.0,650.0ZM935.9,647.5L938.5,645.0L941.1,647.5L938.5,650.0ZM939.4,647.5L942.0,645.0L944.6,647.5L942.0,650.0ZM942.9,647.5L945.5,645.0L948.1,647.5L945.5,650.0ZM946.4,647.5L949.0,645.0L951.6,647.5L949.0,650.0ZM949.9,647.5L952.5,645.0L955.1,647.5L952.5,650.0ZM953.4,647.5L956.0,645.0L958.6,647.5L956.0,650.0ZM956.9,647.5L959.5,645.0L962.1,647.5L959.5,650.0ZM960.4,647.5L963.0,645.0L965.6,647.5L963.0,650.0ZM967.4,647.5L970.0,645.0L972.6,647.5L970.0,650.0ZM970.9,647.5L973.5,645.0L976.1,647.5L973.5,650.0ZM974.4,647.5L977.0,645.0L979.6,647.5L977.0,650.0ZM977.9,647.5L980.5,645.0L983.1,647.5L980.5,650.0ZM981.4,647.5L984.0,645.0L986.6,647.5L984.0,650.0ZM984.9,647.5L987.5,645.0L990.1,647.5L987.5,650.0ZM988.4,647.5L991.0,645.0L993.6,647.5L991.0,650.0ZM991.9,647.5L994.5,645.0L997.1,647.5L994.5,650.0ZM995.4,647.5L998.0,645.0L1000.6,647.5L998.0,650.0ZM998.9,647.5L1001.5,645.0L1004.1,647.5L1001.5,650.0ZM1002.4,647.5L1005.0,645.0L1007.6,647.5L1005.0,650.0ZM1005.9,647.5L1008.5,645.0L1011.1,647.5L1008.5,650.0ZM1009.4,647.5L1012.0,645.0L1014.6,647.5L1012.0,650.0ZM1012.9,647.5L1015.5,645.0L1018.1,647.5L1015.5,650.0ZM1016.4,647.5L1019.0,645.0L1021.6,647.5L1019.0,650.0ZM1019.9,647.5L1022.5,645.0L1025.1,647.5L1022.5,650.0ZM1023.4,647.5L1026.0,645.0L1028.6,647.5L1026.0,650.0ZM1026.9,647.5L1029.5,645.0L1032.1,647.5L1029.5,650.0ZM1030.4,647.5L1033.0,645.0L1035.6,647.5L1033.0,650.0ZM1033.9,647.5L1036.5,645.0L1039.1,647.5L1036.5,650.0ZM1037.4,647.5L1040.0,645.0L1042.6,647.5L1040.0,650.0ZM1040.9,647.5L1043.5,645.0L1046.1,647.5L1043.5,650.0ZM1044.4,647.5L1047.0,645.0L1049.6,647.5L1047.0,650.0ZM1047.9,647.5L1050.5,645.0L1053.1,647.5L1050.5,650.0ZM1051.4,647.5L1054.0,645.0L1056.6,647.5L1054.0,650.0ZM1054.9,647.5L1057.5,645.0L1060.1,647.5L1057.5,650.0ZM1061.9,647.5L1064.5,645.0L1067.1,647.5L1064.5,650.0ZM1065.4,647.5L1068.0,645.0L1070.6,647.5L1068.0,650.0ZM1068.9,647.5L1071.5,645.0L1074.1,647.5L1071.5,650.0ZM1072.4,647.5L1075.0,645.0L1077.6,647.5L1075.0,650.0ZM1075.9,647.5L1078.5,645.0L1081.1,647.5L1078.5,650.0ZM1079.4,647.5L1082.0,645.0L1084.6,647.5L1082.0,650.0ZM1082.9,647.5L1085.5,645.0L1088.1,647.5L1085.5,650.0ZM1086,645L1090,647.5L1086,650Z" fill="#808080" shape-rendering="auto"/><rect x="157" y="640" width="9" height="4" fill="#808080"/><g><line x1="215.5" y1="96" x2="215.5" y2="662" stroke="#000" stroke-width="1" stroke-dasharray="1 4"/><line x1="311.5" y1="96" x2="311.5" y2="662" stroke="#000" stroke-width="1" stroke-dasharray="1 4"/><line x1="407.5" y1="96" x2="407.5" y2="662" stroke="#000" stroke-width="1" stroke-dasharray="1 4"/><line x1="503.5" y1="96" x2="503.5" y2="662" stroke="#000" stroke-width="1" stroke-dasharray="1 4"/><line x1="599.5" y1="96" x2="599.5" y2="662" stroke="#000" stroke-width="1" stroke-dasharray="1 4"/><line x1="696.5" y1="96" x2="696.5" y2="662" stroke="#000" stroke-width="1" stroke-dasharray="1 4"/><line x1="792.5" y1="96" x2="792.5" y2="662" stroke="#000" stroke-width="1" stroke-dasharray="1 4"/><line x1="888.5" y1="96" x2="888.5" y2="662" stroke="#000" stroke-width="1" stroke-dasharray="1 4"/><line x1="984.5" y1="96" x2="984.5" y2="662" stroke="#000" stroke-width="1" stroke-dasharray="1 4"/><line x1="1080.5" y1="96" x2="1080.5" y2="662" stroke="#000" stroke-width="1" stroke-dasharray="1 4"/><line x1="156" y1="222.5" x2="1086" y2="222.5" stroke="#000" stroke-width="1" stroke-dasharray="1 4"/><line x1="156" y1="349.5" x2="1086" y2="349.5" stroke="#000" stroke-width="1" stroke-dasharray="1 4"/><line x1="156" y1="424.5" x2="1086" y2="424.5" stroke="#000" stroke-width="1" stroke-dasharray="1 4"/><line x1="156" y1="517.5" x2="1086" y2="517.5" stroke="#000" stroke-width="1" stroke-dasharray="1 4"/><line x1="156" y1="579.5" x2="1086" y2="579.5" stroke="#000" stroke-width="1" stroke-dasharray="1 4"/><line x1="156" y1="644.5" x2="1086" y2="644.5" stroke="#000" stroke-width="1" stroke-dasharray="1 4"/></g><g><rect x="215" y="652" width="1" height="10" fill="#000"/><rect x="215" y="96" width="1" height="10" fill="#000"/><rect x="311" y="652" width="1" height="10" fill="#000"/><rect x="311" y="96" width="1" height="10" fill="#000"/><rect x="407" y="652" width="1" height="10" fill="#000"/><rect x="407" y="96" width="1" height="10" fill="#000"/><rect x="503" y="652" width="1" height="10" fill="#000"/><rect x="503" y="96" width="1" height="10" fill="#000"/><rect x="599" y="652" width="1" height="10" fill="#000"/><rect x="599" y="96" width="1" height="10" fill="#000"/><rect x="696" y="652" width="1" height="10" fill="#000"/><rect x="696" y="96" width="1" height="10" fill="#000"/><rect x="792" y="652" width="1" height="10" fill="#000"/><rect x="792" y="96" width="1" height="10" fill="#000"/><rect x="888" y="652" width="1" height="10" fill="#000"/><rect x="888" y="96" width="1" height="10" fill="#000"/><rect x="984" y="652" width="1" height="10" fill="#000"/><rect x="984" y="96" width="1" height="10" fill="#000"/><rect x="1080" y="652" width="1" height="10" fill="#000"/><rect x="1080" y="96" width="1" height="10" fill="#000"/><rect x="156" y="96" width="11" height="1" fill="#000"/><rect x="1076" y="96" width="10" height="1" fill="#000"/><rect x="156" y="222" width="11" height="1" fill="#000"/><rect x="1076" y="222" width="10" height="1" fill="#000"/><rect x="156" y="349" width="11" height="1" fill="#000"/><rect x="1076" y="349" width="10" height="1" fill="#000"/><rect x="156" y="424" width="11" height="1" fill="#000"/><rect x="1076" y="424" width="10" height="1" fill="#000"/><rect x="156" y="517" width="11" height="1" fill="#000"/><rect x="1076" y="517" width="10" height="1" fill="#000"/><rect x="156" y="579" width="11" height="1" fill="#000"/><rect x="1076" y="579" width="10" height="1" fill="#000"/><rect x="156" y="644" width="11" height="1" fill="#000"/><rect x="1076" y="644" width="10" height="1" fill="#000"/></g><rect x="156.5" y="96.5" width="930" height="566" fill="none" stroke="#000" stroke-width="1"/><text x="104.4" y="42" font-family="Liberation Sans, sans-serif" font-size="26" textLength="338.6" lengthAdjust="spacingAndGlyphs">SHIS_rdr20140918T154409end</text><text x="444.0" y="42" font-family="Liberation Sans, sans-serif" font-size="26" textLength="356.2" lengthAdjust="spacingAndGlyphs">20140918T204418sdr20140919T</text><text x="800.0" y="42" font-family="Liberation Sans, sans-serif" font-size="26" textLength="337.6" lengthAdjust="spacingAndGlyphs">153128_atm_prof_rtv_unfilt.h5</text><text x="471.6" y="75.7" font-family="Liberation Sans, sans-serif" font-size="26" textLength="295.3" lengthAdjust="spacingAndGlyphs">GDAS Rel Hum Segment 5</text><text transform="translate(149.5,107.8) scale(0.95,1)" font-family="Liberation Sans, sans-serif" font-size="25" text-anchor="end">50</text><text transform="translate(149.5,233.8) scale(0.95,1)" font-family="Liberation Sans, sans-serif" font-size="25" text-anchor="end">100</text><text transform="translate(149.5,360.8) scale(0.95,1)" font-family="Liberation Sans, sans-serif" font-size="25" text-anchor="end">200</text><text transform="translate(149.5,435.8) scale(0.95,1)" font-family="Liberation Sans, sans-serif" font-size="25" text-anchor="end">300</text><text transform="translate(149.5,528.8) scale(0.95,1)" font-family="Liberation Sans, sans-serif" font-size="25" text-anchor="end">500</text><text transform="translate(149.5,590.8) scale(0.95,1)" font-family="Liberation Sans, sans-serif" font-size="25" text-anchor="end">700</text><text transform="translate(149.5,655.8) scale(0.95,1)" font-family="Liberation Sans, sans-serif" font-size="25" text-anchor="end">1000</text><text transform="translate(215.5,697.6) scale(0.93,1)" font-family="Liberation Sans, sans-serif" font-size="25" text-anchor="middle">16:40</text><text transform="translate(311.5,697.6) scale(0.93,1)" font-family="Liberation Sans, sans-serif" font-size="25" text-anchor="middle">16:48</text><text transform="translate(407.5,697.6) scale(0.93,1)" font-family="Liberation Sans, sans-serif" font-size="25" text-anchor="middle">16:55</text><text transform="translate(503.5,697.6) scale(0.93,1)" font-family="Liberation Sans, sans-serif" font-size="25" text-anchor="middle">17:02</text><text transform="translate(599.5,697.6) scale(0.93,1)" font-family="Liberation Sans, sans-serif" font-size="25" text-anchor="middle">17:09</text><text transform="translate(696.5,697.6) scale(0.93,1)" font-family="Liberation Sans, sans-serif" font-size="25" text-anchor="middle">17:16</text><text transform="translate(792.5,697.6) scale(0.93,1)" font-family="Liberation Sans, sans-serif" font-size="25" text-anchor="middle">17:24</text><text transform="translate(888.5,697.6) scale(0.93,1)" font-family="Liberation Sans, sans-serif" font-size="25" text-anchor="middle">17:31</text><text transform="translate(984.5,697.6) scale(0.93,1)" font-family="Liberation Sans, sans-serif" font-size="25" text-anchor="middle">17:38</text><text transform="translate(1080.5,697.6) scale(0.93,1)" font-family="Liberation Sans, sans-serif" font-size="25" text-anchor="middle">17:45</text><text transform="translate(84,382) rotate(-90)" font-family="Liberation Sans, sans-serif" font-size="26" text-anchor="middle" textLength="80" lengthAdjust="spacingAndGlyphs">P (hPa)</text><g><rect x="240.00" y="756" width="11.55" height="27" fill="#00008f"/><rect x="251.25" y="756" width="11.55" height="27" fill="#00009f"/><rect x="262.50" y="756" width="11.55" height="27" fill="#0000af"/><rect x="273.75" y="756" width="11.55" height="27" fill="#0000bf"/><rect x="285.00" y="756" width="11.55" height="27" fill="#0000cf"/><rect x="296.25" y="756" width="11.55" height="27" fill="#0000df"/><rect x="307.50" y="756" width="11.55" height="27" fill="#0000ef"/><rect x="318.75" y="756" width="11.55" height="27" fill="#0000ff"/><rect x="330.00" y="756" width="11.55" height="27" fill="#0010ff"/><rect x="341.25" y="756" width="11.55" height="27" fill="#0020ff"/><rect x="352.50" y="756" width="11.55" height="27" fill="#0030ff"/><rect x="363.75" y="756" width="11.55" height="27" fill="#0040ff"/><rect x="375.00" y="756" width="11.55" height="27" fill="#0050ff"/><rect x="386.25" y="756" width="11.55" height="27" fill="#0060ff"/><rect x="397.50" y="756" width="11.55" height="27" fill="#0070ff"/><rect x="408.75" y="756" width="11.55" height="27" fill="#0080ff"/><rect x="420.00" y="756" width="11.55" height="27" fill="#008fff"/><rect x="431.25" y="756" width="11.55" height="27" fill="#009fff"/><rect x="442.50" y="756" width="11.55" height="27" fill="#00afff"/><rect x="453.75" y="756" width="11.55" height="27" fill="#00bfff"/><rect x="465.00" y="756" width="11.55" height="27" fill="#00cfff"/><rect x="476.25" y="756" width="11.55" height="27" fill="#00dfff"/><rect x="487.50" y="756" width="11.55" height="27" fill="#00efff"/><rect x="498.75" y="756" width="11.55" height="27" fill="#00ffff"/><rect x="510.00" y="756" width="11.55" height="27" fill="#10ffef"/><rect x="521.25" y="756" width="11.55" height="27" fill="#20ffdf"/><rect x="532.50" y="756" width="11.55" height="27" fill="#30ffcf"/><rect x="543.75" y="756" width="11.55" height="27" fill="#40ffbf"/><rect x="555.00" y="756" width="11.55" height="27" fill="#50ffaf"/><rect x="566.25" y="756" width="11.55" height="27" fill="#60ff9f"/><rect x="577.50" y="756" width="11.55" height="27" fill="#70ff8f"/><rect x="588.75" y="756" width="11.55" height="27" fill="#80ff80"/><rect x="600.00" y="756" width="11.55" height="27" fill="#8fff70"/><rect x="611.25" y="756" width="11.55" height="27" fill="#9fff60"/><rect x="622.50" y="756" width="11.55" height="27" fill="#afff50"/><rect x="633.75" y="756" width="11.55" height="27" fill="#bfff40"/><rect x="645.00" y="756" width="11.55" height="27" fill="#cfff30"/><rect x="656.25" y="756" width="11.55" height="27" fill="#dfff20"/><rect x="667.50" y="756" width="11.55" height="27" fill="#efff10"/><rect x="678.75" y="756" width="11.55" height="27" fill="#ffff00"/><rect x="690.00" y="756" width="11.55" height="27" fill="#ffef00"/><rect x="701.25" y="756" width="11.55" height="27" fill="#ffdf00"/><rect x="712.50" y="756" width="11.55" height="27" fill="#ffcf00"/><rect x="723.75" y="756" width="11.55" height="27" fill="#ffbf00"/><rect x="735.00" y="756" width="11.55" height="27" fill="#ffaf00"/><rect x="746.25" y="756" width="11.55" height="27" fill="#ff9f00"/><rect x="757.50" y="756" width="11.55" height="27" fill="#ff8f00"/><rect x="768.75" y="756" width="11.55" height="27" fill="#ff8000"/><rect x="780.00" y="756" width="11.55" height="27" fill="#ff7000"/><rect x="791.25" y="756" width="11.55" height="27" fill="#ff6000"/><rect x="802.50" y="756" width="11.55" height="27" fill="#ff5000"/><rect x="813.75" y="756" width="11.55" height="27" fill="#ff4000"/><rect x="825.00" y="756" width="11.55" height="27" fill="#ff3000"/><rect x="836.25" y="756" width="11.55" height="27" fill="#ff2000"/><rect x="847.50" y="756" width="11.55" height="27" fill="#ff1000"/><rect x="858.75" y="756" width="11.55" height="27" fill="#ff0000"/><rect x="870.00" y="756" width="11.55" height="27" fill="#ef0000"/><rect x="881.25" y="756" width="11.55" height="27" fill="#df0000"/><rect x="892.50" y="756" width="11.55" height="27" fill="#cf0000"/><rect x="903.75" y="756" width="11.55" height="27" fill="#bf0000"/><rect x="915.00" y="756" width="11.55" height="27" fill="#af0000"/><rect x="926.25" y="756" width="11.55" height="27" fill="#9f0000"/><rect x="937.50" y="756" width="11.55" height="27" fill="#8f0000"/><rect x="948.75" y="756" width="11.55" height="27" fill="#800000"/></g><text x="240.5" y="812" font-family="Liberation Sans, sans-serif" font-size="17.5" text-anchor="middle" stroke="#000" stroke-width="0.35">0</text><rect x="312" y="756" width="1" height="7" fill="#000"/><rect x="312" y="775" width="1" height="8" fill="#000"/><text x="312.5" y="812" font-family="Liberation Sans, sans-serif" font-size="17.5" text-anchor="middle" stroke="#000" stroke-width="0.35">10</text><rect x="384" y="756" width="1" height="7" fill="#000"/><rect x="384" y="775" width="1" height="8" fill="#000"/><text x="384.5" y="812" font-family="Liberation Sans, sans-serif" font-size="17.5" text-anchor="middle" stroke="#000" stroke-width="0.35">20</text><rect x="456" y="756" width="1" height="7" fill="#000"/><rect x="456" y="775" width="1" height="8" fill="#000"/><text x="456.5" y="812" font-family="Liberation Sans, sans-serif" font-size="17.5" text-anchor="middle" stroke="#000" stroke-width="0.35">30</text><rect x="528" y="756" width="1" height="7" fill="#000"/><rect x="528" y="775" width="1" height="8" fill="#000"/><text x="528.5" y="812" font-family="Liberation Sans, sans-serif" font-size="17.5" text-anchor="middle" stroke="#000" stroke-width="0.35">40</text><rect x="600" y="756" width="1" height="7" fill="#000"/><rect x="600" y="775" width="1" height="8" fill="#000"/><text x="600.5" y="812" font-family="Liberation Sans, sans-serif" font-size="17.5" text-anchor="middle" stroke="#000" stroke-width="0.35">50</text><rect x="672" y="756" width="1" height="7" fill="#000"/><rect x="672" y="775" width="1" height="8" fill="#000"/><text x="672.5" y="812" font-family="Liberation Sans, sans-serif" font-size="17.5" text-anchor="middle" stroke="#000" stroke-width="0.35">60</text><rect x="744" y="756" width="1" height="7" fill="#000"/><rect x="744" y="775" width="1" height="8" fill="#000"/><text x="744.5" y="812" font-family="Liberation Sans, sans-serif" font-size="17.5" text-anchor="middle" stroke="#000" stroke-width="0.35">70</text><rect x="816" y="756" width="1" height="7" fill="#000"/><rect x="816" y="775" width="1" height="8" fill="#000"/><text x="816.5" y="812" font-family="Liberation Sans, sans-serif" font-size="17.5" text-anchor="middle" stroke="#000" stroke-width="0.35">80</text><rect x="888" y="756" width="1" height="7" fill="#000"/><rect x="888" y="775" width="1" height="8" fill="#000"/><text x="888.5" y="812" font-family="Liberation Sans, sans-serif" font-size="17.5" text-anchor="middle" stroke="#000" stroke-width="0.35">90</text><text x="960.5" y="812" font-family="Liberation Sans, sans-serif" font-size="17.5" text-anchor="middle" stroke="#000" stroke-width="0.35">100</text><rect x="240.5" y="756.5" width="720" height="27" fill="none" stroke="#000" stroke-width="1"/><text x="598.5" y="838" font-family="Liberation Sans, sans-serif" font-size="19" text-anchor="middle">RH (%)</text></svg></body></html>
